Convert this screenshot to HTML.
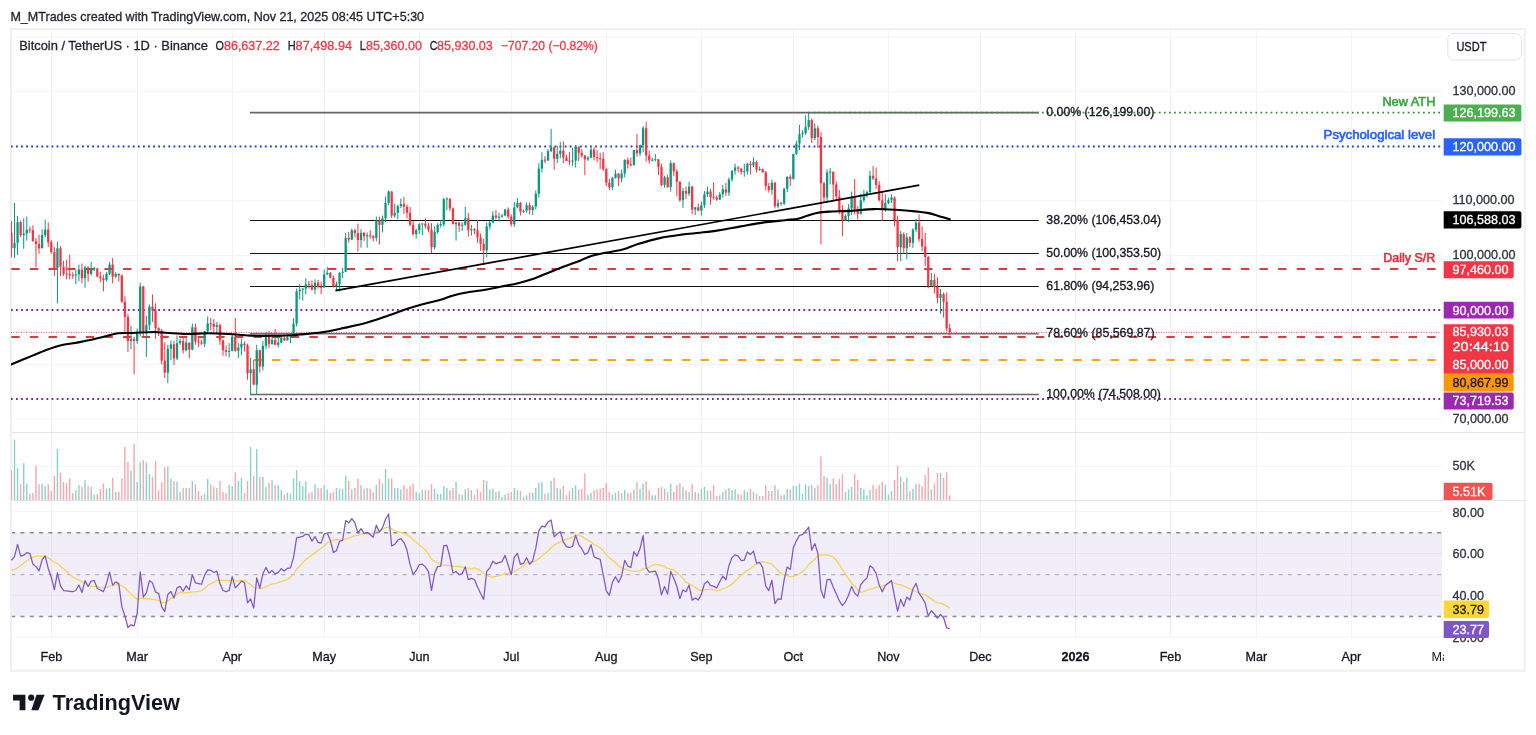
<!DOCTYPE html>
<html><head><meta charset="utf-8"><title>BTCUSDT chart</title>
<style>html,body{margin:0;padding:0;background:#fff;}body{width:1536px;height:735px;overflow:hidden;}svg{display:block;will-change:transform;}</style>
</head><body>
<svg width="1536" height="735" viewBox="0 0 1536 735">
<rect width="1536" height="735" fill="#ffffff"/>
<g stroke="#f2f3f6" stroke-width="1">
<line x1="51.5" y1="29" x2="51.5" y2="637"/>
<line x1="137.5" y1="29" x2="137.5" y2="637"/>
<line x1="232.5" y1="29" x2="232.5" y2="637"/>
<line x1="324.5" y1="29" x2="324.5" y2="637"/>
<line x1="419.5" y1="29" x2="419.5" y2="637"/>
<line x1="511.5" y1="29" x2="511.5" y2="637"/>
<line x1="606.5" y1="29" x2="606.5" y2="637"/>
<line x1="701.5" y1="29" x2="701.5" y2="637"/>
<line x1="793.5" y1="29" x2="793.5" y2="637"/>
<line x1="888.5" y1="29" x2="888.5" y2="637"/>
<line x1="980.5" y1="29" x2="980.5" y2="637"/>
<line x1="1075.5" y1="29" x2="1075.5" y2="637"/>
<line x1="1170.5" y1="29" x2="1170.5" y2="637"/>
<line x1="1256.5" y1="29" x2="1256.5" y2="637"/>
<line x1="1351.5" y1="29" x2="1351.5" y2="637"/>
<line x1="11" y1="419.0" x2="1442.0" y2="419.0"/>
<line x1="11" y1="364.4" x2="1442.0" y2="364.4"/>
<line x1="11" y1="309.9" x2="1442.0" y2="309.9"/>
<line x1="11" y1="255.3" x2="1442.0" y2="255.3"/>
<line x1="11" y1="200.8" x2="1442.0" y2="200.8"/>
<line x1="11" y1="146.2" x2="1442.0" y2="146.2"/>
<line x1="11" y1="91.7" x2="1442.0" y2="91.7"/>
<line x1="11" y1="37.2" x2="1442.0" y2="37.2"/>
<line x1="11" y1="466.3" x2="1442.0" y2="466.3"/>
<line x1="11" y1="511.6" x2="1442.0" y2="511.6"/>
<line x1="11" y1="553.5" x2="1442.0" y2="553.5"/>
<line x1="11" y1="595.3" x2="1442.0" y2="595.3"/>
<line x1="11" y1="637.2" x2="1442.0" y2="637.2"/>
</g>
<rect x="11" y="532.5" width="1431.0" height="83.7" fill="#7e57c2" fill-opacity="0.1"/>
<line x1="11.1" y1="532.8" x2="1442.0" y2="532.8" stroke="#8a8d96" stroke-width="1.5" stroke-dasharray="4.1 5.22"/>
<line x1="11.1" y1="574.7" x2="1442.0" y2="574.7" stroke="#a3a6ae" stroke-width="1" stroke-dasharray="4.1 5.22"/>
<line x1="11.1" y1="616.5" x2="1442.0" y2="616.5" stroke="#8a8d96" stroke-width="1.5" stroke-dasharray="4.1 5.22"/>
<g stroke="#e0e3eb" stroke-width="1">
<line x1="10.5" y1="432.5" x2="1524.5" y2="432.5"/>
<line x1="10.5" y1="500.5" x2="1524.5" y2="500.5"/>
</g>
<rect x="10.9" y="29" width="1513.8" height="641.8" fill="none" stroke="#eeeff1" stroke-width="2"/>
<defs><clipPath id="cm"><rect x="11" y="29" width="1431" height="403"/></clipPath><clipPath id="cv"><rect x="11" y="433" width="1431" height="67"/></clipPath><clipPath id="cr"><rect x="11" y="501" width="1431" height="136"/></clipPath></defs>
<g clip-path="url(#cv)">
<rect x="10.74" y="470.1" width="1.4" height="29.9" fill="#f7a7ad"/>
<rect x="13.80" y="439.6" width="1.4" height="60.4" fill="#8dd0c6"/>
<rect x="16.87" y="468.2" width="1.4" height="31.8" fill="#8dd0c6"/>
<rect x="19.94" y="484.2" width="1.4" height="15.8" fill="#f7a7ad"/>
<rect x="23.00" y="463.2" width="1.4" height="36.8" fill="#8dd0c6"/>
<rect x="26.07" y="483.7" width="1.4" height="16.3" fill="#8dd0c6"/>
<rect x="29.14" y="493.9" width="1.4" height="6.1" fill="#f7a7ad"/>
<rect x="32.20" y="493.0" width="1.4" height="7.0" fill="#f7a7ad"/>
<rect x="35.27" y="465.8" width="1.4" height="34.2" fill="#f7a7ad"/>
<rect x="38.33" y="484.2" width="1.4" height="15.8" fill="#f7a7ad"/>
<rect x="41.40" y="483.7" width="1.4" height="16.3" fill="#8dd0c6"/>
<rect x="44.47" y="486.1" width="1.4" height="13.9" fill="#8dd0c6"/>
<rect x="47.53" y="484.2" width="1.4" height="15.8" fill="#f7a7ad"/>
<rect x="50.60" y="491.0" width="1.4" height="9.0" fill="#f7a7ad"/>
<rect x="53.67" y="476.0" width="1.4" height="24.0" fill="#f7a7ad"/>
<rect x="56.73" y="449.0" width="1.4" height="51.0" fill="#8dd0c6"/>
<rect x="59.80" y="472.8" width="1.4" height="27.2" fill="#f7a7ad"/>
<rect x="62.87" y="482.0" width="1.4" height="18.0" fill="#f7a7ad"/>
<rect x="65.93" y="483.4" width="1.4" height="16.6" fill="#f7a7ad"/>
<rect x="69.00" y="478.4" width="1.4" height="21.6" fill="#f7a7ad"/>
<rect x="72.06" y="493.0" width="1.4" height="7.0" fill="#f7a7ad"/>
<rect x="75.13" y="490.1" width="1.4" height="9.9" fill="#8dd0c6"/>
<rect x="78.20" y="485.1" width="1.4" height="14.9" fill="#8dd0c6"/>
<rect x="81.26" y="487.0" width="1.4" height="13.0" fill="#f7a7ad"/>
<rect x="84.33" y="480.1" width="1.4" height="19.9" fill="#8dd0c6"/>
<rect x="87.40" y="486.1" width="1.4" height="13.9" fill="#f7a7ad"/>
<rect x="90.46" y="487.0" width="1.4" height="13.0" fill="#8dd0c6"/>
<rect x="93.53" y="494.7" width="1.4" height="5.3" fill="#8dd0c6"/>
<rect x="96.59" y="493.9" width="1.4" height="6.1" fill="#f7a7ad"/>
<rect x="99.66" y="488.7" width="1.4" height="11.3" fill="#f7a7ad"/>
<rect x="102.73" y="483.4" width="1.4" height="16.6" fill="#f7a7ad"/>
<rect x="105.79" y="488.7" width="1.4" height="11.3" fill="#8dd0c6"/>
<rect x="108.86" y="488.0" width="1.4" height="12.0" fill="#8dd0c6"/>
<rect x="111.93" y="477.7" width="1.4" height="22.3" fill="#f7a7ad"/>
<rect x="114.99" y="492.0" width="1.4" height="8.0" fill="#8dd0c6"/>
<rect x="118.06" y="492.0" width="1.4" height="8.0" fill="#f7a7ad"/>
<rect x="121.12" y="478.4" width="1.4" height="21.6" fill="#f7a7ad"/>
<rect x="124.19" y="447.0" width="1.4" height="53.0" fill="#f7a7ad"/>
<rect x="127.26" y="461.8" width="1.4" height="38.2" fill="#f7a7ad"/>
<rect x="130.32" y="470.9" width="1.4" height="29.1" fill="#8dd0c6"/>
<rect x="133.39" y="443.9" width="1.4" height="56.1" fill="#f7a7ad"/>
<rect x="136.46" y="482.0" width="1.4" height="18.0" fill="#8dd0c6"/>
<rect x="139.52" y="462.3" width="1.4" height="37.7" fill="#8dd0c6"/>
<rect x="142.59" y="460.1" width="1.4" height="39.9" fill="#f7a7ad"/>
<rect x="145.66" y="462.3" width="1.4" height="37.7" fill="#8dd0c6"/>
<rect x="148.72" y="474.1" width="1.4" height="25.9" fill="#8dd0c6"/>
<rect x="151.79" y="477.0" width="1.4" height="23.0" fill="#f7a7ad"/>
<rect x="154.85" y="460.9" width="1.4" height="39.1" fill="#f7a7ad"/>
<rect x="157.92" y="490.3" width="1.4" height="9.7" fill="#f7a7ad"/>
<rect x="160.99" y="482.0" width="1.4" height="18.0" fill="#f7a7ad"/>
<rect x="164.05" y="467.4" width="1.4" height="32.6" fill="#f7a7ad"/>
<rect x="167.12" y="466.8" width="1.4" height="33.2" fill="#8dd0c6"/>
<rect x="170.19" y="478.5" width="1.4" height="21.5" fill="#8dd0c6"/>
<rect x="173.25" y="481.0" width="1.4" height="19.0" fill="#f7a7ad"/>
<rect x="176.32" y="482.0" width="1.4" height="18.0" fill="#8dd0c6"/>
<rect x="179.38" y="492.0" width="1.4" height="8.0" fill="#8dd0c6"/>
<rect x="182.45" y="488.0" width="1.4" height="12.0" fill="#f7a7ad"/>
<rect x="185.52" y="488.0" width="1.4" height="12.0" fill="#8dd0c6"/>
<rect x="188.58" y="488.0" width="1.4" height="12.0" fill="#f7a7ad"/>
<rect x="191.65" y="481.0" width="1.4" height="19.0" fill="#8dd0c6"/>
<rect x="194.72" y="484.2" width="1.4" height="15.8" fill="#f7a7ad"/>
<rect x="197.78" y="491.0" width="1.4" height="9.0" fill="#f7a7ad"/>
<rect x="200.85" y="495.3" width="1.4" height="4.7" fill="#f7a7ad"/>
<rect x="203.92" y="493.9" width="1.4" height="6.1" fill="#8dd0c6"/>
<rect x="206.98" y="479.1" width="1.4" height="20.9" fill="#8dd0c6"/>
<rect x="210.05" y="484.2" width="1.4" height="15.8" fill="#f7a7ad"/>
<rect x="213.11" y="487.0" width="1.4" height="13.0" fill="#f7a7ad"/>
<rect x="216.18" y="488.0" width="1.4" height="12.0" fill="#8dd0c6"/>
<rect x="219.25" y="481.0" width="1.4" height="19.0" fill="#f7a7ad"/>
<rect x="222.31" y="492.0" width="1.4" height="8.0" fill="#f7a7ad"/>
<rect x="225.38" y="493.0" width="1.4" height="7.0" fill="#f7a7ad"/>
<rect x="228.45" y="485.1" width="1.4" height="14.9" fill="#8dd0c6"/>
<rect x="231.51" y="486.1" width="1.4" height="13.9" fill="#8dd0c6"/>
<rect x="234.58" y="472.5" width="1.4" height="27.5" fill="#f7a7ad"/>
<rect x="237.64" y="481.0" width="1.4" height="19.0" fill="#8dd0c6"/>
<rect x="240.71" y="477.7" width="1.4" height="22.3" fill="#8dd0c6"/>
<rect x="243.78" y="493.0" width="1.4" height="7.0" fill="#f7a7ad"/>
<rect x="246.84" y="481.0" width="1.4" height="19.0" fill="#f7a7ad"/>
<rect x="249.91" y="447.0" width="1.4" height="53.0" fill="#8dd0c6"/>
<rect x="252.98" y="476.0" width="1.4" height="24.0" fill="#f7a7ad"/>
<rect x="256.04" y="449.0" width="1.4" height="51.0" fill="#8dd0c6"/>
<rect x="259.11" y="477.0" width="1.4" height="23.0" fill="#f7a7ad"/>
<rect x="262.17" y="477.0" width="1.4" height="23.0" fill="#8dd0c6"/>
<rect x="265.24" y="487.0" width="1.4" height="13.0" fill="#8dd0c6"/>
<rect x="268.31" y="482.8" width="1.4" height="17.2" fill="#f7a7ad"/>
<rect x="271.37" y="480.1" width="1.4" height="19.9" fill="#8dd0c6"/>
<rect x="274.44" y="485.1" width="1.4" height="14.9" fill="#f7a7ad"/>
<rect x="277.51" y="485.1" width="1.4" height="14.9" fill="#8dd0c6"/>
<rect x="280.57" y="490.1" width="1.4" height="9.9" fill="#8dd0c6"/>
<rect x="283.64" y="495.0" width="1.4" height="5.0" fill="#f7a7ad"/>
<rect x="286.71" y="493.0" width="1.4" height="7.0" fill="#8dd0c6"/>
<rect x="289.77" y="493.9" width="1.4" height="6.1" fill="#8dd0c6"/>
<rect x="292.84" y="478.5" width="1.4" height="21.5" fill="#8dd0c6"/>
<rect x="295.90" y="470.1" width="1.4" height="29.9" fill="#8dd0c6"/>
<rect x="298.97" y="481.0" width="1.4" height="19.0" fill="#8dd0c6"/>
<rect x="302.04" y="486.1" width="1.4" height="13.9" fill="#8dd0c6"/>
<rect x="305.10" y="481.0" width="1.4" height="19.0" fill="#8dd0c6"/>
<rect x="308.17" y="493.0" width="1.4" height="7.0" fill="#f7a7ad"/>
<rect x="311.24" y="492.0" width="1.4" height="8.0" fill="#f7a7ad"/>
<rect x="314.30" y="484.2" width="1.4" height="15.8" fill="#8dd0c6"/>
<rect x="317.37" y="488.0" width="1.4" height="12.0" fill="#f7a7ad"/>
<rect x="320.43" y="488.0" width="1.4" height="12.0" fill="#f7a7ad"/>
<rect x="323.50" y="485.1" width="1.4" height="14.9" fill="#8dd0c6"/>
<rect x="326.57" y="489.4" width="1.4" height="10.6" fill="#8dd0c6"/>
<rect x="329.63" y="493.0" width="1.4" height="7.0" fill="#f7a7ad"/>
<rect x="332.70" y="492.0" width="1.4" height="8.0" fill="#f7a7ad"/>
<rect x="335.77" y="488.0" width="1.4" height="12.0" fill="#8dd0c6"/>
<rect x="338.83" y="488.7" width="1.4" height="11.3" fill="#8dd0c6"/>
<rect x="341.90" y="488.7" width="1.4" height="11.3" fill="#8dd0c6"/>
<rect x="344.96" y="476.0" width="1.4" height="24.0" fill="#8dd0c6"/>
<rect x="348.03" y="481.0" width="1.4" height="19.0" fill="#f7a7ad"/>
<rect x="351.10" y="489.4" width="1.4" height="10.6" fill="#8dd0c6"/>
<rect x="354.16" y="488.0" width="1.4" height="12.0" fill="#f7a7ad"/>
<rect x="357.23" y="478.5" width="1.4" height="21.5" fill="#f7a7ad"/>
<rect x="360.30" y="485.1" width="1.4" height="14.9" fill="#8dd0c6"/>
<rect x="363.36" y="488.7" width="1.4" height="11.3" fill="#f7a7ad"/>
<rect x="366.43" y="488.0" width="1.4" height="12.0" fill="#8dd0c6"/>
<rect x="369.50" y="488.7" width="1.4" height="11.3" fill="#f7a7ad"/>
<rect x="372.56" y="492.0" width="1.4" height="8.0" fill="#f7a7ad"/>
<rect x="375.63" y="485.1" width="1.4" height="14.9" fill="#8dd0c6"/>
<rect x="378.69" y="479.1" width="1.4" height="20.9" fill="#f7a7ad"/>
<rect x="381.76" y="483.7" width="1.4" height="16.3" fill="#8dd0c6"/>
<rect x="384.83" y="469.1" width="1.4" height="30.9" fill="#8dd0c6"/>
<rect x="387.89" y="478.5" width="1.4" height="21.5" fill="#8dd0c6"/>
<rect x="390.96" y="478.5" width="1.4" height="21.5" fill="#f7a7ad"/>
<rect x="394.03" y="488.0" width="1.4" height="12.0" fill="#8dd0c6"/>
<rect x="397.09" y="488.0" width="1.4" height="12.0" fill="#8dd0c6"/>
<rect x="400.16" y="489.4" width="1.4" height="10.6" fill="#8dd0c6"/>
<rect x="403.22" y="485.1" width="1.4" height="14.9" fill="#f7a7ad"/>
<rect x="406.29" y="488.7" width="1.4" height="11.3" fill="#f7a7ad"/>
<rect x="409.36" y="486.1" width="1.4" height="13.9" fill="#f7a7ad"/>
<rect x="412.42" y="483.7" width="1.4" height="16.3" fill="#f7a7ad"/>
<rect x="415.49" y="492.0" width="1.4" height="8.0" fill="#8dd0c6"/>
<rect x="418.56" y="493.0" width="1.4" height="7.0" fill="#8dd0c6"/>
<rect x="421.62" y="490.1" width="1.4" height="9.9" fill="#8dd0c6"/>
<rect x="424.69" y="490.1" width="1.4" height="9.9" fill="#f7a7ad"/>
<rect x="427.75" y="490.1" width="1.4" height="9.9" fill="#f7a7ad"/>
<rect x="430.82" y="484.2" width="1.4" height="15.8" fill="#f7a7ad"/>
<rect x="433.89" y="488.7" width="1.4" height="11.3" fill="#8dd0c6"/>
<rect x="436.95" y="493.9" width="1.4" height="6.1" fill="#8dd0c6"/>
<rect x="440.02" y="493.9" width="1.4" height="6.1" fill="#8dd0c6"/>
<rect x="443.09" y="486.1" width="1.4" height="13.9" fill="#8dd0c6"/>
<rect x="446.15" y="488.0" width="1.4" height="12.0" fill="#8dd0c6"/>
<rect x="449.22" y="490.1" width="1.4" height="9.9" fill="#f7a7ad"/>
<rect x="452.29" y="488.0" width="1.4" height="12.0" fill="#f7a7ad"/>
<rect x="455.35" y="482.0" width="1.4" height="18.0" fill="#8dd0c6"/>
<rect x="458.42" y="493.9" width="1.4" height="6.1" fill="#f7a7ad"/>
<rect x="461.48" y="494.7" width="1.4" height="5.3" fill="#8dd0c6"/>
<rect x="464.55" y="489.4" width="1.4" height="10.6" fill="#8dd0c6"/>
<rect x="467.62" y="488.0" width="1.4" height="12.0" fill="#f7a7ad"/>
<rect x="470.68" y="490.1" width="1.4" height="9.9" fill="#8dd0c6"/>
<rect x="473.75" y="494.7" width="1.4" height="5.3" fill="#f7a7ad"/>
<rect x="476.82" y="488.7" width="1.4" height="11.3" fill="#f7a7ad"/>
<rect x="479.88" y="492.0" width="1.4" height="8.0" fill="#f7a7ad"/>
<rect x="482.95" y="480.1" width="1.4" height="19.9" fill="#f7a7ad"/>
<rect x="486.01" y="481.0" width="1.4" height="19.0" fill="#8dd0c6"/>
<rect x="489.08" y="489.4" width="1.4" height="10.6" fill="#8dd0c6"/>
<rect x="492.15" y="488.7" width="1.4" height="11.3" fill="#8dd0c6"/>
<rect x="495.21" y="492.0" width="1.4" height="8.0" fill="#f7a7ad"/>
<rect x="498.28" y="491.0" width="1.4" height="9.0" fill="#8dd0c6"/>
<rect x="501.35" y="497.0" width="1.4" height="3.0" fill="#8dd0c6"/>
<rect x="504.41" y="494.7" width="1.4" height="5.3" fill="#8dd0c6"/>
<rect x="507.48" y="493.0" width="1.4" height="7.0" fill="#f7a7ad"/>
<rect x="510.55" y="492.0" width="1.4" height="8.0" fill="#f7a7ad"/>
<rect x="513.61" y="488.0" width="1.4" height="12.0" fill="#8dd0c6"/>
<rect x="516.68" y="490.1" width="1.4" height="9.9" fill="#8dd0c6"/>
<rect x="519.74" y="491.0" width="1.4" height="9.0" fill="#f7a7ad"/>
<rect x="522.81" y="497.0" width="1.4" height="3.0" fill="#8dd0c6"/>
<rect x="525.88" y="495.3" width="1.4" height="4.7" fill="#8dd0c6"/>
<rect x="528.94" y="493.0" width="1.4" height="7.0" fill="#f7a7ad"/>
<rect x="532.01" y="493.0" width="1.4" height="7.0" fill="#8dd0c6"/>
<rect x="535.08" y="488.0" width="1.4" height="12.0" fill="#8dd0c6"/>
<rect x="538.14" y="483.0" width="1.4" height="17.0" fill="#8dd0c6"/>
<rect x="541.21" y="482.0" width="1.4" height="18.0" fill="#8dd0c6"/>
<rect x="544.27" y="493.9" width="1.4" height="6.1" fill="#f7a7ad"/>
<rect x="547.34" y="493.0" width="1.4" height="7.0" fill="#8dd0c6"/>
<rect x="550.41" y="481.0" width="1.4" height="19.0" fill="#8dd0c6"/>
<rect x="553.47" y="477.7" width="1.4" height="22.3" fill="#f7a7ad"/>
<rect x="556.54" y="488.0" width="1.4" height="12.0" fill="#8dd0c6"/>
<rect x="559.61" y="488.7" width="1.4" height="11.3" fill="#8dd0c6"/>
<rect x="562.67" y="486.1" width="1.4" height="13.9" fill="#f7a7ad"/>
<rect x="565.74" y="495.3" width="1.4" height="4.7" fill="#f7a7ad"/>
<rect x="568.80" y="491.0" width="1.4" height="9.0" fill="#f7a7ad"/>
<rect x="571.87" y="488.0" width="1.4" height="12.0" fill="#8dd0c6"/>
<rect x="574.94" y="485.1" width="1.4" height="14.9" fill="#8dd0c6"/>
<rect x="578.00" y="489.4" width="1.4" height="10.6" fill="#f7a7ad"/>
<rect x="581.07" y="488.7" width="1.4" height="11.3" fill="#f7a7ad"/>
<rect x="584.14" y="473.4" width="1.4" height="26.6" fill="#f7a7ad"/>
<rect x="587.20" y="494.7" width="1.4" height="5.3" fill="#8dd0c6"/>
<rect x="590.27" y="493.0" width="1.4" height="7.0" fill="#8dd0c6"/>
<rect x="593.34" y="490.1" width="1.4" height="9.9" fill="#f7a7ad"/>
<rect x="596.40" y="489.4" width="1.4" height="10.6" fill="#f7a7ad"/>
<rect x="599.47" y="488.7" width="1.4" height="11.3" fill="#f7a7ad"/>
<rect x="602.53" y="488.0" width="1.4" height="12.0" fill="#f7a7ad"/>
<rect x="605.60" y="483.0" width="1.4" height="17.0" fill="#f7a7ad"/>
<rect x="608.67" y="492.0" width="1.4" height="8.0" fill="#f7a7ad"/>
<rect x="611.73" y="494.7" width="1.4" height="5.3" fill="#8dd0c6"/>
<rect x="614.80" y="493.0" width="1.4" height="7.0" fill="#8dd0c6"/>
<rect x="617.87" y="491.0" width="1.4" height="9.0" fill="#f7a7ad"/>
<rect x="620.93" y="493.0" width="1.4" height="7.0" fill="#8dd0c6"/>
<rect x="624.00" y="490.1" width="1.4" height="9.9" fill="#8dd0c6"/>
<rect x="627.06" y="493.0" width="1.4" height="7.0" fill="#f7a7ad"/>
<rect x="630.13" y="493.0" width="1.4" height="7.0" fill="#f7a7ad"/>
<rect x="633.20" y="489.4" width="1.4" height="10.6" fill="#8dd0c6"/>
<rect x="636.26" y="482.0" width="1.4" height="18.0" fill="#f7a7ad"/>
<rect x="639.33" y="488.7" width="1.4" height="11.3" fill="#8dd0c6"/>
<rect x="642.40" y="483.7" width="1.4" height="16.3" fill="#8dd0c6"/>
<rect x="645.46" y="481.0" width="1.4" height="19.0" fill="#f7a7ad"/>
<rect x="648.53" y="490.1" width="1.4" height="9.9" fill="#f7a7ad"/>
<rect x="651.59" y="495.3" width="1.4" height="4.7" fill="#8dd0c6"/>
<rect x="654.66" y="495.3" width="1.4" height="4.7" fill="#8dd0c6"/>
<rect x="657.73" y="488.0" width="1.4" height="12.0" fill="#f7a7ad"/>
<rect x="660.79" y="487.0" width="1.4" height="13.0" fill="#f7a7ad"/>
<rect x="663.86" y="488.7" width="1.4" height="11.3" fill="#8dd0c6"/>
<rect x="666.93" y="492.0" width="1.4" height="8.0" fill="#f7a7ad"/>
<rect x="669.99" y="483.7" width="1.4" height="16.3" fill="#8dd0c6"/>
<rect x="673.06" y="492.0" width="1.4" height="8.0" fill="#f7a7ad"/>
<rect x="676.13" y="485.1" width="1.4" height="14.9" fill="#f7a7ad"/>
<rect x="679.19" y="483.0" width="1.4" height="17.0" fill="#f7a7ad"/>
<rect x="682.26" y="487.0" width="1.4" height="13.0" fill="#8dd0c6"/>
<rect x="685.32" y="490.1" width="1.4" height="9.9" fill="#f7a7ad"/>
<rect x="688.39" y="492.0" width="1.4" height="8.0" fill="#8dd0c6"/>
<rect x="691.46" y="484.2" width="1.4" height="15.8" fill="#f7a7ad"/>
<rect x="694.52" y="492.0" width="1.4" height="8.0" fill="#8dd0c6"/>
<rect x="697.59" y="493.0" width="1.4" height="7.0" fill="#f7a7ad"/>
<rect x="700.66" y="488.7" width="1.4" height="11.3" fill="#8dd0c6"/>
<rect x="703.72" y="487.0" width="1.4" height="13.0" fill="#8dd0c6"/>
<rect x="706.79" y="491.0" width="1.4" height="9.0" fill="#8dd0c6"/>
<rect x="709.85" y="491.0" width="1.4" height="9.0" fill="#f7a7ad"/>
<rect x="712.92" y="485.1" width="1.4" height="14.9" fill="#f7a7ad"/>
<rect x="715.99" y="496.1" width="1.4" height="3.9" fill="#f7a7ad"/>
<rect x="719.05" y="495.3" width="1.4" height="4.7" fill="#8dd0c6"/>
<rect x="722.12" y="492.0" width="1.4" height="8.0" fill="#8dd0c6"/>
<rect x="725.19" y="489.4" width="1.4" height="10.6" fill="#f7a7ad"/>
<rect x="728.25" y="488.0" width="1.4" height="12.0" fill="#8dd0c6"/>
<rect x="731.32" y="490.1" width="1.4" height="9.9" fill="#8dd0c6"/>
<rect x="734.38" y="489.4" width="1.4" height="10.6" fill="#8dd0c6"/>
<rect x="737.45" y="493.9" width="1.4" height="6.1" fill="#f7a7ad"/>
<rect x="740.52" y="494.7" width="1.4" height="5.3" fill="#f7a7ad"/>
<rect x="743.58" y="490.1" width="1.4" height="9.9" fill="#8dd0c6"/>
<rect x="746.65" y="492.0" width="1.4" height="8.0" fill="#8dd0c6"/>
<rect x="749.72" y="488.7" width="1.4" height="11.3" fill="#f7a7ad"/>
<rect x="752.78" y="492.0" width="1.4" height="8.0" fill="#8dd0c6"/>
<rect x="755.85" y="493.9" width="1.4" height="6.1" fill="#f7a7ad"/>
<rect x="758.92" y="496.1" width="1.4" height="3.9" fill="#8dd0c6"/>
<rect x="761.98" y="496.1" width="1.4" height="3.9" fill="#f7a7ad"/>
<rect x="765.05" y="485.1" width="1.4" height="14.9" fill="#f7a7ad"/>
<rect x="768.11" y="491.0" width="1.4" height="9.0" fill="#f7a7ad"/>
<rect x="771.18" y="491.0" width="1.4" height="9.0" fill="#8dd0c6"/>
<rect x="774.25" y="485.1" width="1.4" height="14.9" fill="#f7a7ad"/>
<rect x="777.31" y="489.4" width="1.4" height="10.6" fill="#8dd0c6"/>
<rect x="780.38" y="495.3" width="1.4" height="4.7" fill="#f7a7ad"/>
<rect x="783.45" y="494.7" width="1.4" height="5.3" fill="#8dd0c6"/>
<rect x="786.51" y="488.7" width="1.4" height="11.3" fill="#8dd0c6"/>
<rect x="789.58" y="489.4" width="1.4" height="10.6" fill="#f7a7ad"/>
<rect x="792.64" y="486.1" width="1.4" height="13.9" fill="#8dd0c6"/>
<rect x="795.71" y="486.1" width="1.4" height="13.9" fill="#8dd0c6"/>
<rect x="798.78" y="483.7" width="1.4" height="16.3" fill="#8dd0c6"/>
<rect x="801.84" y="493.9" width="1.4" height="6.1" fill="#8dd0c6"/>
<rect x="804.91" y="484.2" width="1.4" height="15.8" fill="#8dd0c6"/>
<rect x="807.98" y="486.1" width="1.4" height="13.9" fill="#8dd0c6"/>
<rect x="811.04" y="485.1" width="1.4" height="14.9" fill="#f7a7ad"/>
<rect x="814.11" y="488.0" width="1.4" height="12.0" fill="#8dd0c6"/>
<rect x="817.17" y="485.1" width="1.4" height="14.9" fill="#f7a7ad"/>
<rect x="820.24" y="456.3" width="1.4" height="43.7" fill="#f7a7ad"/>
<rect x="823.31" y="476.0" width="1.4" height="24.0" fill="#f7a7ad"/>
<rect x="826.37" y="477.7" width="1.4" height="22.3" fill="#8dd0c6"/>
<rect x="829.44" y="484.2" width="1.4" height="15.8" fill="#8dd0c6"/>
<rect x="832.51" y="478.4" width="1.4" height="21.6" fill="#f7a7ad"/>
<rect x="835.57" y="484.2" width="1.4" height="15.8" fill="#f7a7ad"/>
<rect x="838.64" y="479.1" width="1.4" height="20.9" fill="#f7a7ad"/>
<rect x="841.71" y="474.1" width="1.4" height="25.9" fill="#f7a7ad"/>
<rect x="844.77" y="492.0" width="1.4" height="8.0" fill="#8dd0c6"/>
<rect x="847.84" y="489.4" width="1.4" height="10.6" fill="#8dd0c6"/>
<rect x="850.90" y="487.0" width="1.4" height="13.0" fill="#8dd0c6"/>
<rect x="853.97" y="474.1" width="1.4" height="25.9" fill="#f7a7ad"/>
<rect x="857.04" y="480.1" width="1.4" height="19.9" fill="#f7a7ad"/>
<rect x="860.10" y="488.0" width="1.4" height="12.0" fill="#8dd0c6"/>
<rect x="863.17" y="489.4" width="1.4" height="10.6" fill="#8dd0c6"/>
<rect x="866.24" y="495.3" width="1.4" height="4.7" fill="#8dd0c6"/>
<rect x="869.30" y="490.1" width="1.4" height="9.9" fill="#8dd0c6"/>
<rect x="872.37" y="485.1" width="1.4" height="14.9" fill="#f7a7ad"/>
<rect x="875.43" y="488.7" width="1.4" height="11.3" fill="#f7a7ad"/>
<rect x="878.50" y="485.1" width="1.4" height="14.9" fill="#f7a7ad"/>
<rect x="881.57" y="482.0" width="1.4" height="18.0" fill="#f7a7ad"/>
<rect x="884.63" y="485.1" width="1.4" height="14.9" fill="#8dd0c6"/>
<rect x="887.70" y="494.7" width="1.4" height="5.3" fill="#8dd0c6"/>
<rect x="890.77" y="491.0" width="1.4" height="9.0" fill="#8dd0c6"/>
<rect x="893.83" y="480.1" width="1.4" height="19.9" fill="#f7a7ad"/>
<rect x="896.90" y="465.8" width="1.4" height="34.2" fill="#f7a7ad"/>
<rect x="899.97" y="477.0" width="1.4" height="23.0" fill="#8dd0c6"/>
<rect x="903.03" y="482.0" width="1.4" height="18.0" fill="#f7a7ad"/>
<rect x="906.10" y="477.7" width="1.4" height="22.3" fill="#8dd0c6"/>
<rect x="909.16" y="491.0" width="1.4" height="9.0" fill="#f7a7ad"/>
<rect x="912.23" y="488.7" width="1.4" height="11.3" fill="#8dd0c6"/>
<rect x="915.30" y="484.2" width="1.4" height="15.8" fill="#8dd0c6"/>
<rect x="918.36" y="483.7" width="1.4" height="16.3" fill="#f7a7ad"/>
<rect x="921.43" y="486.1" width="1.4" height="13.9" fill="#f7a7ad"/>
<rect x="924.50" y="475.0" width="1.4" height="25.0" fill="#f7a7ad"/>
<rect x="927.56" y="467.4" width="1.4" height="32.6" fill="#f7a7ad"/>
<rect x="930.63" y="489.4" width="1.4" height="10.6" fill="#8dd0c6"/>
<rect x="933.69" y="483.4" width="1.4" height="16.6" fill="#f7a7ad"/>
<rect x="936.76" y="473.1" width="1.4" height="26.9" fill="#f7a7ad"/>
<rect x="939.83" y="472.8" width="1.4" height="27.2" fill="#8dd0c6"/>
<rect x="942.89" y="477.7" width="1.4" height="22.3" fill="#f7a7ad"/>
<rect x="945.96" y="472.5" width="1.4" height="27.5" fill="#f7a7ad"/>
<rect x="949.03" y="495.3" width="1.4" height="4.7" fill="#f7a7ad"/>
</g>
<g clip-path="url(#cm)">
<line x1="250" y1="112.6" x2="1038.8" y2="112.6" stroke="#666666" stroke-width="1.6"/>
<line x1="250" y1="220.5" x2="1038.8" y2="220.5" stroke="#111111" stroke-width="1"/>
<line x1="250" y1="253.5" x2="1038.8" y2="253.5" stroke="#111111" stroke-width="1"/>
<line x1="250" y1="286.5" x2="1038.8" y2="286.5" stroke="#111111" stroke-width="1"/>
<line x1="250" y1="333.7" x2="1038.8" y2="333.7" stroke="#707070" stroke-width="1.4"/>
<line x1="250" y1="394.5" x2="1038.8" y2="394.5" stroke="#666666" stroke-width="1.6"/>
<line x1="808.3" y1="112.60" x2="1440.6" y2="112.60" stroke="#3d8b40" stroke-width="1.8" stroke-dasharray="1.8 3.28" stroke-dashoffset="0"/>
<line x1="10.9" y1="146.50" x2="1440.6" y2="146.50" stroke="#2040c8" stroke-width="1.8" stroke-dasharray="1.8 3.28" stroke-dashoffset="0"/>
<line x1="11.3" y1="269.10" x2="1440.6" y2="269.10" stroke="#e23845" stroke-width="2" stroke-dasharray="8.4 10.23" stroke-dashoffset="0"/>
<line x1="10.9" y1="310.00" x2="1440.6" y2="310.00" stroke="#7b2a96" stroke-width="1.8" stroke-dasharray="1.8 3.28" stroke-dashoffset="0"/>
<line x1="11.3" y1="337.00" x2="1440.6" y2="337.00" stroke="#e23845" stroke-width="2" stroke-dasharray="8.4 10.23" stroke-dashoffset="0"/>
<line x1="253.49" y1="360.00" x2="1440.6" y2="360.00" stroke="#f2a71b" stroke-width="2" stroke-dasharray="8.4 10.23" stroke-dashoffset="0"/>
<line x1="10.9" y1="399.00" x2="1440.6" y2="399.00" stroke="#7b2a96" stroke-width="1.8" stroke-dasharray="1.8 3.28" stroke-dashoffset="0"/>
<line x1="11" y1="332.40" x2="1440.6" y2="332.40" stroke="#e84a55" stroke-width="1" stroke-dasharray="1 1.5" stroke-dashoffset="0"/>
</g>
<g clip-path="url(#cm)">
<rect x="10.94" y="220.98" width="1" height="36.55" fill="#f23645"/>
<rect x="10.29" y="232.98" width="2.3" height="15.27" fill="#f23645"/>
<rect x="14.00" y="202.98" width="1" height="55.10" fill="#089981"/>
<rect x="13.35" y="242.80" width="2.3" height="5.45" fill="#089981"/>
<rect x="17.07" y="216.07" width="1" height="38.73" fill="#089981"/>
<rect x="16.42" y="222.07" width="2.3" height="20.73" fill="#089981"/>
<rect x="20.14" y="220.44" width="1" height="16.91" fill="#f23645"/>
<rect x="19.49" y="222.07" width="2.3" height="13.09" fill="#f23645"/>
<rect x="23.20" y="218.26" width="1" height="30.55" fill="#089981"/>
<rect x="22.55" y="233.53" width="2.3" height="1.64" fill="#089981"/>
<rect x="26.27" y="216.62" width="1" height="24.00" fill="#089981"/>
<rect x="25.62" y="229.71" width="2.3" height="3.82" fill="#089981"/>
<rect x="29.34" y="226.44" width="1" height="6.55" fill="#f23645"/>
<rect x="28.69" y="229.48" width="2.3" height="1.00" fill="#f23645"/>
<rect x="32.40" y="225.35" width="1" height="16.37" fill="#f23645"/>
<rect x="31.75" y="230.26" width="2.3" height="10.91" fill="#f23645"/>
<rect x="35.47" y="237.89" width="1" height="29.46" fill="#f23645"/>
<rect x="34.82" y="241.17" width="2.3" height="2.73" fill="#f23645"/>
<rect x="38.53" y="234.62" width="1" height="19.09" fill="#f23645"/>
<rect x="37.88" y="243.89" width="2.3" height="4.36" fill="#f23645"/>
<rect x="41.60" y="229.17" width="1" height="19.09" fill="#089981"/>
<rect x="40.95" y="235.17" width="2.3" height="13.09" fill="#089981"/>
<rect x="44.67" y="219.89" width="1" height="17.46" fill="#089981"/>
<rect x="44.02" y="229.71" width="2.3" height="5.46" fill="#089981"/>
<rect x="47.73" y="222.62" width="1" height="24.55" fill="#f23645"/>
<rect x="47.08" y="229.71" width="2.3" height="12.55" fill="#f23645"/>
<rect x="50.80" y="240.08" width="1" height="13.64" fill="#f23645"/>
<rect x="50.15" y="242.26" width="2.3" height="9.82" fill="#f23645"/>
<rect x="53.87" y="247.17" width="1" height="28.91" fill="#f23645"/>
<rect x="53.22" y="252.08" width="2.3" height="15.82" fill="#f23645"/>
<rect x="56.93" y="241.71" width="1" height="61.64" fill="#089981"/>
<rect x="56.28" y="248.26" width="2.3" height="19.64" fill="#089981"/>
<rect x="60.00" y="246.08" width="1" height="30.00" fill="#f23645"/>
<rect x="59.35" y="248.26" width="2.3" height="18.55" fill="#f23645"/>
<rect x="63.07" y="260.81" width="1" height="15.27" fill="#f23645"/>
<rect x="62.42" y="266.81" width="2.3" height="7.09" fill="#f23645"/>
<rect x="66.13" y="259.71" width="1" height="19.64" fill="#f23645"/>
<rect x="65.48" y="273.67" width="2.3" height="1.00" fill="#f23645"/>
<rect x="69.20" y="254.80" width="1" height="24.55" fill="#f23645"/>
<rect x="68.55" y="274.22" width="2.3" height="1.00" fill="#f23645"/>
<rect x="72.26" y="272.26" width="1" height="6.55" fill="#f23645"/>
<rect x="71.61" y="274.76" width="2.3" height="1.00" fill="#f23645"/>
<rect x="75.33" y="270.08" width="1" height="14.18" fill="#089981"/>
<rect x="74.68" y="274.44" width="2.3" height="1.09" fill="#089981"/>
<rect x="78.40" y="264.62" width="1" height="16.36" fill="#089981"/>
<rect x="77.75" y="269.53" width="2.3" height="4.91" fill="#089981"/>
<rect x="81.46" y="263.53" width="1" height="19.64" fill="#f23645"/>
<rect x="80.81" y="269.53" width="2.3" height="8.73" fill="#f23645"/>
<rect x="84.53" y="265.71" width="1" height="21.82" fill="#089981"/>
<rect x="83.88" y="267.35" width="2.3" height="10.91" fill="#089981"/>
<rect x="87.60" y="266.26" width="1" height="15.27" fill="#f23645"/>
<rect x="86.95" y="267.35" width="2.3" height="6.55" fill="#f23645"/>
<rect x="90.66" y="261.90" width="1" height="13.64" fill="#089981"/>
<rect x="90.01" y="268.99" width="2.3" height="4.91" fill="#089981"/>
<rect x="93.73" y="266.81" width="1" height="4.36" fill="#089981"/>
<rect x="93.08" y="268.21" width="2.3" height="1.00" fill="#089981"/>
<rect x="96.79" y="267.90" width="1" height="9.27" fill="#f23645"/>
<rect x="96.14" y="268.44" width="2.3" height="8.18" fill="#f23645"/>
<rect x="99.86" y="271.71" width="1" height="10.36" fill="#f23645"/>
<rect x="99.21" y="276.62" width="2.3" height="1.64" fill="#f23645"/>
<rect x="102.93" y="274.99" width="1" height="16.37" fill="#f23645"/>
<rect x="102.28" y="278.26" width="2.3" height="1.64" fill="#f23645"/>
<rect x="105.99" y="272.26" width="1" height="9.27" fill="#089981"/>
<rect x="105.34" y="273.90" width="2.3" height="6.00" fill="#089981"/>
<rect x="109.06" y="261.90" width="1" height="13.09" fill="#089981"/>
<rect x="108.41" y="264.62" width="2.3" height="9.27" fill="#089981"/>
<rect x="112.13" y="258.08" width="1" height="25.09" fill="#f23645"/>
<rect x="111.48" y="264.62" width="2.3" height="12.00" fill="#f23645"/>
<rect x="115.19" y="272.26" width="1" height="6.00" fill="#089981"/>
<rect x="114.54" y="273.90" width="2.3" height="2.73" fill="#089981"/>
<rect x="118.26" y="273.35" width="1" height="8.18" fill="#f23645"/>
<rect x="117.61" y="273.90" width="2.3" height="1.64" fill="#f23645"/>
<rect x="121.32" y="274.44" width="1" height="28.37" fill="#f23645"/>
<rect x="120.67" y="275.53" width="2.3" height="26.18" fill="#f23645"/>
<rect x="124.39" y="296.26" width="1" height="35.46" fill="#f23645"/>
<rect x="123.74" y="301.72" width="2.3" height="15.27" fill="#f23645"/>
<rect x="127.46" y="313.72" width="1" height="38.19" fill="#f23645"/>
<rect x="126.81" y="316.99" width="2.3" height="24.00" fill="#f23645"/>
<rect x="130.52" y="325.72" width="1" height="23.46" fill="#089981"/>
<rect x="129.87" y="338.81" width="2.3" height="2.18" fill="#089981"/>
<rect x="133.59" y="336.63" width="1" height="37.64" fill="#f23645"/>
<rect x="132.94" y="338.81" width="2.3" height="2.18" fill="#f23645"/>
<rect x="136.66" y="328.45" width="1" height="15.27" fill="#089981"/>
<rect x="136.01" y="331.72" width="2.3" height="9.27" fill="#089981"/>
<rect x="139.72" y="282.62" width="1" height="54.00" fill="#089981"/>
<rect x="139.07" y="286.44" width="2.3" height="45.28" fill="#089981"/>
<rect x="142.79" y="285.90" width="1" height="51.28" fill="#f23645"/>
<rect x="142.14" y="286.44" width="2.3" height="44.73" fill="#f23645"/>
<rect x="145.86" y="315.90" width="1" height="40.91" fill="#089981"/>
<rect x="145.21" y="325.17" width="2.3" height="6.00" fill="#089981"/>
<rect x="148.92" y="304.44" width="1" height="25.64" fill="#089981"/>
<rect x="148.27" y="306.63" width="2.3" height="18.55" fill="#089981"/>
<rect x="151.99" y="294.63" width="1" height="27.27" fill="#f23645"/>
<rect x="151.34" y="306.63" width="2.3" height="3.82" fill="#f23645"/>
<rect x="155.05" y="303.35" width="1" height="35.46" fill="#f23645"/>
<rect x="154.40" y="310.45" width="2.3" height="17.46" fill="#f23645"/>
<rect x="158.12" y="327.36" width="1" height="8.73" fill="#f23645"/>
<rect x="157.47" y="327.90" width="2.3" height="2.73" fill="#f23645"/>
<rect x="161.19" y="328.99" width="1" height="35.46" fill="#f23645"/>
<rect x="160.54" y="330.63" width="2.3" height="30.00" fill="#f23645"/>
<rect x="164.25" y="342.08" width="1" height="36.00" fill="#f23645"/>
<rect x="163.60" y="360.63" width="2.3" height="12.00" fill="#f23645"/>
<rect x="167.32" y="344.81" width="1" height="38.19" fill="#089981"/>
<rect x="166.67" y="348.63" width="2.3" height="24.00" fill="#089981"/>
<rect x="170.39" y="340.45" width="1" height="19.64" fill="#089981"/>
<rect x="169.74" y="344.27" width="2.3" height="4.36" fill="#089981"/>
<rect x="173.45" y="340.99" width="1" height="24.00" fill="#f23645"/>
<rect x="172.80" y="344.27" width="2.3" height="14.18" fill="#f23645"/>
<rect x="176.52" y="335.54" width="1" height="24.55" fill="#089981"/>
<rect x="175.87" y="343.18" width="2.3" height="15.27" fill="#089981"/>
<rect x="179.58" y="338.81" width="1" height="6.00" fill="#089981"/>
<rect x="178.93" y="340.99" width="2.3" height="2.18" fill="#089981"/>
<rect x="182.65" y="337.18" width="1" height="16.36" fill="#f23645"/>
<rect x="182.00" y="340.99" width="2.3" height="9.27" fill="#f23645"/>
<rect x="185.72" y="338.27" width="1" height="13.09" fill="#089981"/>
<rect x="185.07" y="342.63" width="2.3" height="7.64" fill="#089981"/>
<rect x="188.78" y="342.63" width="1" height="15.82" fill="#f23645"/>
<rect x="188.13" y="342.63" width="2.3" height="7.09" fill="#f23645"/>
<rect x="191.85" y="323.54" width="1" height="26.73" fill="#089981"/>
<rect x="191.20" y="327.36" width="2.3" height="22.37" fill="#089981"/>
<rect x="194.92" y="323.54" width="1" height="21.27" fill="#f23645"/>
<rect x="194.27" y="327.36" width="2.3" height="14.18" fill="#f23645"/>
<rect x="197.98" y="338.27" width="1" height="8.73" fill="#f23645"/>
<rect x="197.33" y="341.54" width="2.3" height="1.09" fill="#f23645"/>
<rect x="201.05" y="339.90" width="1" height="4.91" fill="#f23645"/>
<rect x="200.40" y="342.63" width="2.3" height="1.09" fill="#f23645"/>
<rect x="204.12" y="331.17" width="1" height="15.82" fill="#089981"/>
<rect x="203.47" y="331.17" width="2.3" height="12.55" fill="#089981"/>
<rect x="207.18" y="316.45" width="1" height="18.00" fill="#089981"/>
<rect x="206.53" y="323.54" width="2.3" height="7.64" fill="#089981"/>
<rect x="210.25" y="318.08" width="1" height="12.00" fill="#f23645"/>
<rect x="209.60" y="323.31" width="2.3" height="1.00" fill="#f23645"/>
<rect x="213.31" y="319.17" width="1" height="13.09" fill="#f23645"/>
<rect x="212.66" y="324.08" width="2.3" height="2.73" fill="#f23645"/>
<rect x="216.38" y="321.90" width="1" height="10.91" fill="#089981"/>
<rect x="215.73" y="325.17" width="2.3" height="1.64" fill="#089981"/>
<rect x="219.45" y="323.54" width="1" height="21.27" fill="#f23645"/>
<rect x="218.80" y="325.17" width="2.3" height="15.27" fill="#f23645"/>
<rect x="222.51" y="339.36" width="1" height="16.37" fill="#f23645"/>
<rect x="221.86" y="340.45" width="2.3" height="9.82" fill="#f23645"/>
<rect x="225.58" y="345.36" width="1" height="10.91" fill="#f23645"/>
<rect x="224.93" y="350.27" width="2.3" height="1.64" fill="#f23645"/>
<rect x="228.65" y="343.18" width="1" height="14.18" fill="#089981"/>
<rect x="228.00" y="350.81" width="2.3" height="1.09" fill="#089981"/>
<rect x="231.71" y="334.45" width="1" height="16.91" fill="#089981"/>
<rect x="231.06" y="336.63" width="2.3" height="14.18" fill="#089981"/>
<rect x="234.78" y="318.08" width="1" height="33.82" fill="#f23645"/>
<rect x="234.13" y="336.63" width="2.3" height="14.18" fill="#f23645"/>
<rect x="237.84" y="343.18" width="1" height="14.73" fill="#089981"/>
<rect x="237.19" y="347.54" width="2.3" height="3.27" fill="#089981"/>
<rect x="240.91" y="338.81" width="1" height="16.37" fill="#089981"/>
<rect x="240.26" y="343.72" width="2.3" height="3.82" fill="#089981"/>
<rect x="243.98" y="341.54" width="1" height="9.82" fill="#f23645"/>
<rect x="243.33" y="343.72" width="2.3" height="1.64" fill="#f23645"/>
<rect x="247.04" y="343.72" width="1" height="36.00" fill="#f23645"/>
<rect x="246.39" y="345.36" width="2.3" height="27.82" fill="#f23645"/>
<rect x="250.11" y="357.90" width="1" height="36.55" fill="#089981"/>
<rect x="249.46" y="369.36" width="2.3" height="3.82" fill="#089981"/>
<rect x="253.18" y="360.09" width="1" height="25.09" fill="#f23645"/>
<rect x="252.53" y="369.36" width="2.3" height="15.27" fill="#f23645"/>
<rect x="256.24" y="344.81" width="1" height="49.10" fill="#089981"/>
<rect x="255.59" y="350.27" width="2.3" height="34.37" fill="#089981"/>
<rect x="259.31" y="349.72" width="1" height="22.91" fill="#f23645"/>
<rect x="258.66" y="350.27" width="2.3" height="16.37" fill="#f23645"/>
<rect x="262.37" y="340.99" width="1" height="29.46" fill="#089981"/>
<rect x="261.72" y="345.90" width="2.3" height="20.73" fill="#089981"/>
<rect x="265.44" y="332.27" width="1" height="16.91" fill="#089981"/>
<rect x="264.79" y="335.54" width="2.3" height="10.36" fill="#089981"/>
<rect x="268.51" y="331.17" width="1" height="16.91" fill="#f23645"/>
<rect x="267.86" y="335.54" width="2.3" height="8.73" fill="#f23645"/>
<rect x="271.57" y="332.81" width="1" height="11.46" fill="#089981"/>
<rect x="270.92" y="339.90" width="2.3" height="4.36" fill="#089981"/>
<rect x="274.64" y="328.99" width="1" height="15.82" fill="#f23645"/>
<rect x="273.99" y="339.90" width="2.3" height="4.91" fill="#f23645"/>
<rect x="277.71" y="334.45" width="1" height="13.09" fill="#089981"/>
<rect x="277.06" y="342.63" width="2.3" height="2.18" fill="#089981"/>
<rect x="280.77" y="334.45" width="1" height="8.73" fill="#089981"/>
<rect x="280.12" y="337.72" width="2.3" height="4.91" fill="#089981"/>
<rect x="283.84" y="336.63" width="1" height="4.36" fill="#f23645"/>
<rect x="283.19" y="337.72" width="2.3" height="2.73" fill="#f23645"/>
<rect x="286.91" y="333.90" width="1" height="6.55" fill="#089981"/>
<rect x="286.26" y="337.18" width="2.3" height="3.27" fill="#089981"/>
<rect x="289.97" y="335.54" width="1" height="7.64" fill="#089981"/>
<rect x="289.32" y="336.40" width="2.3" height="1.00" fill="#089981"/>
<rect x="293.04" y="318.08" width="1" height="18.55" fill="#089981"/>
<rect x="292.39" y="323.54" width="2.3" height="13.09" fill="#089981"/>
<rect x="296.10" y="288.63" width="1" height="37.64" fill="#089981"/>
<rect x="295.45" y="291.35" width="2.3" height="32.18" fill="#089981"/>
<rect x="299.17" y="284.26" width="1" height="15.27" fill="#089981"/>
<rect x="298.52" y="289.72" width="2.3" height="1.64" fill="#089981"/>
<rect x="302.24" y="288.08" width="1" height="12.55" fill="#089981"/>
<rect x="301.59" y="288.63" width="2.3" height="1.09" fill="#089981"/>
<rect x="305.30" y="278.26" width="1" height="15.82" fill="#089981"/>
<rect x="304.65" y="284.26" width="2.3" height="4.36" fill="#089981"/>
<rect x="308.37" y="280.99" width="1" height="7.64" fill="#f23645"/>
<rect x="307.72" y="284.03" width="2.3" height="1.00" fill="#f23645"/>
<rect x="311.44" y="280.44" width="1" height="9.82" fill="#f23645"/>
<rect x="310.79" y="284.81" width="2.3" height="4.91" fill="#f23645"/>
<rect x="314.50" y="279.35" width="1" height="14.73" fill="#089981"/>
<rect x="313.85" y="282.62" width="2.3" height="7.09" fill="#089981"/>
<rect x="317.57" y="279.90" width="1" height="8.73" fill="#f23645"/>
<rect x="316.92" y="282.62" width="2.3" height="4.36" fill="#f23645"/>
<rect x="320.63" y="281.53" width="1" height="12.55" fill="#f23645"/>
<rect x="319.98" y="286.76" width="2.3" height="1.00" fill="#f23645"/>
<rect x="323.70" y="269.53" width="1" height="18.00" fill="#089981"/>
<rect x="323.05" y="274.44" width="2.3" height="13.09" fill="#089981"/>
<rect x="326.77" y="266.81" width="1" height="8.18" fill="#089981"/>
<rect x="326.12" y="272.81" width="2.3" height="1.64" fill="#089981"/>
<rect x="329.83" y="272.26" width="1" height="6.00" fill="#f23645"/>
<rect x="329.18" y="272.81" width="2.3" height="4.91" fill="#f23645"/>
<rect x="332.90" y="275.53" width="1" height="12.00" fill="#f23645"/>
<rect x="332.25" y="277.72" width="2.3" height="8.73" fill="#f23645"/>
<rect x="335.97" y="281.53" width="1" height="9.27" fill="#089981"/>
<rect x="335.32" y="284.26" width="2.3" height="2.18" fill="#089981"/>
<rect x="339.03" y="272.26" width="1" height="19.09" fill="#089981"/>
<rect x="338.38" y="272.81" width="2.3" height="11.46" fill="#089981"/>
<rect x="342.10" y="267.90" width="1" height="10.36" fill="#089981"/>
<rect x="341.45" y="271.71" width="2.3" height="1.09" fill="#089981"/>
<rect x="345.16" y="232.98" width="1" height="39.28" fill="#089981"/>
<rect x="344.51" y="237.89" width="2.3" height="33.82" fill="#089981"/>
<rect x="348.23" y="231.89" width="1" height="10.91" fill="#f23645"/>
<rect x="347.58" y="237.89" width="2.3" height="1.64" fill="#f23645"/>
<rect x="351.30" y="228.62" width="1" height="11.46" fill="#089981"/>
<rect x="350.65" y="230.26" width="2.3" height="9.27" fill="#089981"/>
<rect x="354.36" y="228.62" width="1" height="8.73" fill="#f23645"/>
<rect x="353.71" y="230.26" width="2.3" height="2.73" fill="#f23645"/>
<rect x="357.43" y="223.71" width="1" height="27.82" fill="#f23645"/>
<rect x="356.78" y="232.98" width="2.3" height="7.09" fill="#f23645"/>
<rect x="360.50" y="229.17" width="1" height="18.55" fill="#089981"/>
<rect x="359.85" y="232.98" width="2.3" height="7.09" fill="#089981"/>
<rect x="363.56" y="231.89" width="1" height="9.27" fill="#f23645"/>
<rect x="362.91" y="232.98" width="2.3" height="3.27" fill="#f23645"/>
<rect x="366.63" y="232.44" width="1" height="15.27" fill="#089981"/>
<rect x="365.98" y="235.17" width="2.3" height="1.09" fill="#089981"/>
<rect x="369.70" y="230.26" width="1" height="8.18" fill="#f23645"/>
<rect x="369.05" y="235.17" width="2.3" height="1.09" fill="#f23645"/>
<rect x="372.76" y="235.17" width="1" height="6.00" fill="#f23645"/>
<rect x="372.11" y="236.26" width="2.3" height="1.64" fill="#f23645"/>
<rect x="375.83" y="216.62" width="1" height="24.55" fill="#089981"/>
<rect x="375.18" y="220.44" width="2.3" height="17.46" fill="#089981"/>
<rect x="378.89" y="216.62" width="1" height="27.82" fill="#f23645"/>
<rect x="378.24" y="220.44" width="2.3" height="4.36" fill="#f23645"/>
<rect x="381.96" y="215.53" width="1" height="16.91" fill="#089981"/>
<rect x="381.31" y="218.26" width="2.3" height="6.55" fill="#089981"/>
<rect x="385.03" y="196.44" width="1" height="25.64" fill="#089981"/>
<rect x="384.38" y="202.98" width="2.3" height="15.27" fill="#089981"/>
<rect x="388.09" y="190.44" width="1" height="14.73" fill="#089981"/>
<rect x="387.44" y="191.53" width="2.3" height="11.46" fill="#089981"/>
<rect x="391.16" y="190.98" width="1" height="27.28" fill="#f23645"/>
<rect x="390.51" y="191.53" width="2.3" height="24.00" fill="#f23645"/>
<rect x="394.23" y="203.53" width="1" height="14.18" fill="#089981"/>
<rect x="393.58" y="212.80" width="2.3" height="2.73" fill="#089981"/>
<rect x="397.29" y="204.62" width="1" height="14.73" fill="#089981"/>
<rect x="396.64" y="206.25" width="2.3" height="6.55" fill="#089981"/>
<rect x="400.36" y="198.62" width="1" height="9.27" fill="#089981"/>
<rect x="399.71" y="204.07" width="2.3" height="2.18" fill="#089981"/>
<rect x="403.42" y="196.98" width="1" height="16.91" fill="#f23645"/>
<rect x="402.77" y="204.07" width="2.3" height="2.73" fill="#f23645"/>
<rect x="406.49" y="204.62" width="1" height="13.64" fill="#f23645"/>
<rect x="405.84" y="206.80" width="2.3" height="6.00" fill="#f23645"/>
<rect x="409.56" y="206.80" width="1" height="19.64" fill="#f23645"/>
<rect x="408.91" y="212.80" width="2.3" height="12.00" fill="#f23645"/>
<rect x="412.62" y="220.98" width="1" height="14.73" fill="#f23645"/>
<rect x="411.97" y="224.80" width="2.3" height="9.27" fill="#f23645"/>
<rect x="415.69" y="228.62" width="1" height="9.82" fill="#089981"/>
<rect x="415.04" y="230.26" width="2.3" height="3.82" fill="#089981"/>
<rect x="418.76" y="223.17" width="1" height="10.91" fill="#089981"/>
<rect x="418.11" y="224.26" width="2.3" height="6.00" fill="#089981"/>
<rect x="421.82" y="223.17" width="1" height="12.00" fill="#089981"/>
<rect x="421.17" y="223.48" width="2.3" height="1.00" fill="#089981"/>
<rect x="424.89" y="218.26" width="1" height="10.36" fill="#f23645"/>
<rect x="424.24" y="223.71" width="2.3" height="2.18" fill="#f23645"/>
<rect x="427.95" y="222.62" width="1" height="9.82" fill="#f23645"/>
<rect x="427.30" y="225.89" width="2.3" height="3.82" fill="#f23645"/>
<rect x="431.02" y="223.17" width="1" height="30.00" fill="#f23645"/>
<rect x="430.37" y="229.71" width="2.3" height="17.46" fill="#f23645"/>
<rect x="434.09" y="226.44" width="1" height="22.91" fill="#089981"/>
<rect x="433.44" y="231.89" width="2.3" height="15.27" fill="#089981"/>
<rect x="437.15" y="223.17" width="1" height="10.91" fill="#089981"/>
<rect x="436.50" y="224.80" width="2.3" height="7.09" fill="#089981"/>
<rect x="440.22" y="219.89" width="1" height="7.64" fill="#089981"/>
<rect x="439.57" y="224.03" width="2.3" height="1.00" fill="#089981"/>
<rect x="443.29" y="197.53" width="1" height="28.91" fill="#089981"/>
<rect x="442.64" y="199.16" width="2.3" height="25.09" fill="#089981"/>
<rect x="446.35" y="197.53" width="1" height="12.55" fill="#089981"/>
<rect x="445.70" y="198.39" width="2.3" height="1.00" fill="#089981"/>
<rect x="449.42" y="198.62" width="1" height="12.55" fill="#f23645"/>
<rect x="448.77" y="198.62" width="2.3" height="9.82" fill="#f23645"/>
<rect x="452.49" y="207.35" width="1" height="16.91" fill="#f23645"/>
<rect x="451.84" y="208.44" width="2.3" height="15.82" fill="#f23645"/>
<rect x="455.55" y="221.53" width="1" height="19.09" fill="#089981"/>
<rect x="454.90" y="222.62" width="2.3" height="1.64" fill="#089981"/>
<rect x="458.62" y="221.53" width="1" height="10.36" fill="#f23645"/>
<rect x="457.97" y="222.62" width="2.3" height="3.27" fill="#f23645"/>
<rect x="461.68" y="222.07" width="1" height="8.73" fill="#089981"/>
<rect x="461.03" y="224.80" width="2.3" height="1.09" fill="#089981"/>
<rect x="464.75" y="206.80" width="1" height="19.09" fill="#089981"/>
<rect x="464.10" y="218.26" width="2.3" height="6.55" fill="#089981"/>
<rect x="467.82" y="212.80" width="1" height="24.00" fill="#f23645"/>
<rect x="467.17" y="218.26" width="2.3" height="12.00" fill="#f23645"/>
<rect x="470.88" y="224.80" width="1" height="10.91" fill="#089981"/>
<rect x="470.23" y="229.17" width="2.3" height="1.09" fill="#089981"/>
<rect x="473.95" y="228.07" width="1" height="6.00" fill="#f23645"/>
<rect x="473.30" y="229.17" width="2.3" height="1.09" fill="#f23645"/>
<rect x="477.02" y="219.89" width="1" height="22.91" fill="#f23645"/>
<rect x="476.37" y="230.26" width="2.3" height="7.09" fill="#f23645"/>
<rect x="480.08" y="233.53" width="1" height="17.46" fill="#f23645"/>
<rect x="479.43" y="237.35" width="2.3" height="6.55" fill="#f23645"/>
<rect x="483.15" y="238.98" width="1" height="26.18" fill="#f23645"/>
<rect x="482.50" y="243.89" width="2.3" height="6.55" fill="#f23645"/>
<rect x="486.21" y="222.62" width="1" height="34.91" fill="#089981"/>
<rect x="485.56" y="226.44" width="2.3" height="24.00" fill="#089981"/>
<rect x="489.28" y="220.98" width="1" height="8.73" fill="#089981"/>
<rect x="488.63" y="222.62" width="2.3" height="3.82" fill="#089981"/>
<rect x="492.35" y="211.16" width="1" height="12.00" fill="#089981"/>
<rect x="491.70" y="215.53" width="2.3" height="7.09" fill="#089981"/>
<rect x="495.41" y="210.07" width="1" height="9.27" fill="#f23645"/>
<rect x="494.76" y="215.53" width="2.3" height="2.18" fill="#f23645"/>
<rect x="498.48" y="212.80" width="1" height="8.73" fill="#089981"/>
<rect x="497.83" y="216.62" width="2.3" height="1.09" fill="#089981"/>
<rect x="501.55" y="213.89" width="1" height="3.82" fill="#089981"/>
<rect x="500.90" y="215.53" width="2.3" height="1.09" fill="#089981"/>
<rect x="504.61" y="208.98" width="1" height="7.09" fill="#089981"/>
<rect x="503.96" y="209.53" width="2.3" height="6.00" fill="#089981"/>
<rect x="507.68" y="207.35" width="1" height="11.46" fill="#f23645"/>
<rect x="507.03" y="209.53" width="2.3" height="7.09" fill="#f23645"/>
<rect x="510.75" y="214.44" width="1" height="12.00" fill="#f23645"/>
<rect x="510.10" y="216.62" width="2.3" height="7.64" fill="#f23645"/>
<rect x="513.81" y="201.89" width="1" height="25.09" fill="#089981"/>
<rect x="513.16" y="207.35" width="2.3" height="16.91" fill="#089981"/>
<rect x="516.88" y="198.07" width="1" height="10.36" fill="#089981"/>
<rect x="516.23" y="202.98" width="2.3" height="4.36" fill="#089981"/>
<rect x="519.94" y="201.89" width="1" height="13.64" fill="#f23645"/>
<rect x="519.29" y="202.98" width="2.3" height="8.73" fill="#f23645"/>
<rect x="523.01" y="209.53" width="1" height="3.27" fill="#089981"/>
<rect x="522.36" y="210.62" width="2.3" height="1.09" fill="#089981"/>
<rect x="526.08" y="202.44" width="1" height="10.36" fill="#089981"/>
<rect x="525.43" y="205.16" width="2.3" height="5.45" fill="#089981"/>
<rect x="529.14" y="202.44" width="1" height="12.00" fill="#f23645"/>
<rect x="528.49" y="205.16" width="2.3" height="4.91" fill="#f23645"/>
<rect x="532.21" y="205.16" width="1" height="9.82" fill="#089981"/>
<rect x="531.56" y="206.80" width="2.3" height="3.27" fill="#089981"/>
<rect x="535.28" y="190.44" width="1" height="19.09" fill="#089981"/>
<rect x="534.63" y="193.71" width="2.3" height="13.09" fill="#089981"/>
<rect x="538.34" y="163.16" width="1" height="34.37" fill="#089981"/>
<rect x="537.69" y="168.62" width="2.3" height="25.09" fill="#089981"/>
<rect x="541.41" y="152.25" width="1" height="20.18" fill="#089981"/>
<rect x="540.76" y="159.89" width="2.3" height="8.73" fill="#089981"/>
<rect x="544.47" y="156.07" width="1" height="7.09" fill="#f23645"/>
<rect x="543.82" y="159.66" width="2.3" height="1.00" fill="#f23645"/>
<rect x="547.54" y="148.98" width="1" height="12.00" fill="#089981"/>
<rect x="546.89" y="151.16" width="2.3" height="9.27" fill="#089981"/>
<rect x="550.61" y="128.79" width="1" height="23.46" fill="#089981"/>
<rect x="549.96" y="147.34" width="2.3" height="3.82" fill="#089981"/>
<rect x="553.67" y="146.80" width="1" height="22.91" fill="#f23645"/>
<rect x="553.02" y="147.34" width="2.3" height="11.46" fill="#f23645"/>
<rect x="556.74" y="145.70" width="1" height="17.46" fill="#089981"/>
<rect x="556.09" y="153.89" width="2.3" height="4.91" fill="#089981"/>
<rect x="559.81" y="141.89" width="1" height="16.36" fill="#089981"/>
<rect x="559.16" y="150.61" width="2.3" height="3.27" fill="#089981"/>
<rect x="562.87" y="141.34" width="1" height="21.82" fill="#f23645"/>
<rect x="562.22" y="150.61" width="2.3" height="7.09" fill="#f23645"/>
<rect x="565.94" y="154.98" width="1" height="6.00" fill="#f23645"/>
<rect x="565.29" y="157.71" width="2.3" height="3.27" fill="#f23645"/>
<rect x="569.00" y="152.25" width="1" height="13.09" fill="#f23645"/>
<rect x="568.35" y="160.75" width="2.3" height="1.00" fill="#f23645"/>
<rect x="572.07" y="147.89" width="1" height="18.00" fill="#089981"/>
<rect x="571.42" y="160.43" width="2.3" height="1.09" fill="#089981"/>
<rect x="575.14" y="145.16" width="1" height="22.37" fill="#089981"/>
<rect x="574.49" y="146.80" width="2.3" height="13.64" fill="#089981"/>
<rect x="578.20" y="146.25" width="1" height="14.73" fill="#f23645"/>
<rect x="577.55" y="146.80" width="2.3" height="6.00" fill="#f23645"/>
<rect x="581.27" y="148.98" width="1" height="8.73" fill="#f23645"/>
<rect x="580.62" y="152.80" width="2.3" height="2.73" fill="#f23645"/>
<rect x="584.34" y="154.98" width="1" height="20.18" fill="#f23645"/>
<rect x="583.69" y="155.52" width="2.3" height="3.82" fill="#f23645"/>
<rect x="587.40" y="156.07" width="1" height="4.91" fill="#089981"/>
<rect x="586.75" y="157.71" width="2.3" height="1.64" fill="#089981"/>
<rect x="590.47" y="147.34" width="1" height="10.91" fill="#089981"/>
<rect x="589.82" y="149.52" width="2.3" height="8.18" fill="#089981"/>
<rect x="593.54" y="147.34" width="1" height="13.09" fill="#f23645"/>
<rect x="592.89" y="149.52" width="2.3" height="7.64" fill="#f23645"/>
<rect x="596.60" y="150.07" width="1" height="12.00" fill="#f23645"/>
<rect x="595.95" y="157.16" width="2.3" height="1.09" fill="#f23645"/>
<rect x="599.67" y="152.80" width="1" height="16.37" fill="#f23645"/>
<rect x="599.02" y="158.02" width="2.3" height="1.00" fill="#f23645"/>
<rect x="602.73" y="152.25" width="1" height="18.55" fill="#f23645"/>
<rect x="602.08" y="158.80" width="2.3" height="10.36" fill="#f23645"/>
<rect x="605.80" y="167.52" width="1" height="18.55" fill="#f23645"/>
<rect x="605.15" y="169.16" width="2.3" height="13.64" fill="#f23645"/>
<rect x="608.87" y="178.98" width="1" height="10.91" fill="#f23645"/>
<rect x="608.22" y="182.80" width="2.3" height="4.36" fill="#f23645"/>
<rect x="611.93" y="176.80" width="1" height="13.09" fill="#089981"/>
<rect x="611.28" y="177.89" width="2.3" height="9.27" fill="#089981"/>
<rect x="615.00" y="169.71" width="1" height="8.73" fill="#089981"/>
<rect x="614.35" y="173.52" width="2.3" height="4.36" fill="#089981"/>
<rect x="618.07" y="172.98" width="1" height="13.09" fill="#f23645"/>
<rect x="617.42" y="173.52" width="2.3" height="4.91" fill="#f23645"/>
<rect x="621.13" y="169.71" width="1" height="12.55" fill="#089981"/>
<rect x="620.48" y="173.52" width="2.3" height="4.91" fill="#089981"/>
<rect x="624.20" y="159.34" width="1" height="18.00" fill="#089981"/>
<rect x="623.55" y="159.89" width="2.3" height="13.64" fill="#089981"/>
<rect x="627.26" y="157.71" width="1" height="10.91" fill="#f23645"/>
<rect x="626.61" y="159.89" width="2.3" height="4.36" fill="#f23645"/>
<rect x="630.33" y="157.71" width="1" height="8.73" fill="#f23645"/>
<rect x="629.68" y="164.25" width="2.3" height="1.09" fill="#f23645"/>
<rect x="633.40" y="150.07" width="1" height="15.27" fill="#089981"/>
<rect x="632.75" y="150.07" width="2.3" height="15.27" fill="#089981"/>
<rect x="636.46" y="133.70" width="1" height="22.91" fill="#f23645"/>
<rect x="635.81" y="150.07" width="2.3" height="3.27" fill="#f23645"/>
<rect x="639.53" y="144.61" width="1" height="11.46" fill="#089981"/>
<rect x="638.88" y="145.16" width="2.3" height="8.18" fill="#089981"/>
<rect x="642.60" y="126.07" width="1" height="26.18" fill="#089981"/>
<rect x="641.95" y="128.25" width="2.3" height="16.91" fill="#089981"/>
<rect x="645.66" y="121.70" width="1" height="39.82" fill="#f23645"/>
<rect x="645.01" y="128.25" width="2.3" height="27.28" fill="#f23645"/>
<rect x="648.73" y="150.61" width="1" height="13.09" fill="#f23645"/>
<rect x="648.08" y="155.52" width="2.3" height="4.91" fill="#f23645"/>
<rect x="651.79" y="157.71" width="1" height="3.82" fill="#089981"/>
<rect x="651.14" y="159.66" width="2.3" height="1.00" fill="#089981"/>
<rect x="654.86" y="153.89" width="1" height="7.64" fill="#089981"/>
<rect x="654.21" y="159.11" width="2.3" height="1.00" fill="#089981"/>
<rect x="657.93" y="159.34" width="1" height="15.82" fill="#f23645"/>
<rect x="657.28" y="159.34" width="2.3" height="7.64" fill="#f23645"/>
<rect x="660.99" y="163.71" width="1" height="22.37" fill="#f23645"/>
<rect x="660.34" y="166.98" width="2.3" height="18.00" fill="#f23645"/>
<rect x="664.06" y="175.71" width="1" height="12.00" fill="#089981"/>
<rect x="663.41" y="177.34" width="2.3" height="7.64" fill="#089981"/>
<rect x="667.13" y="174.62" width="1" height="13.09" fill="#f23645"/>
<rect x="666.48" y="177.34" width="2.3" height="9.82" fill="#f23645"/>
<rect x="670.19" y="160.43" width="1" height="31.09" fill="#089981"/>
<rect x="669.54" y="163.16" width="2.3" height="24.00" fill="#089981"/>
<rect x="673.26" y="162.62" width="1" height="13.09" fill="#f23645"/>
<rect x="672.61" y="163.16" width="2.3" height="8.18" fill="#f23645"/>
<rect x="676.33" y="169.16" width="1" height="27.28" fill="#f23645"/>
<rect x="675.68" y="171.34" width="2.3" height="10.36" fill="#f23645"/>
<rect x="679.39" y="181.16" width="1" height="20.73" fill="#f23645"/>
<rect x="678.74" y="181.71" width="2.3" height="18.55" fill="#f23645"/>
<rect x="682.46" y="187.71" width="1" height="20.18" fill="#089981"/>
<rect x="681.81" y="190.98" width="2.3" height="9.27" fill="#089981"/>
<rect x="685.52" y="186.62" width="1" height="12.55" fill="#f23645"/>
<rect x="684.87" y="190.98" width="2.3" height="2.73" fill="#f23645"/>
<rect x="688.59" y="181.71" width="1" height="14.18" fill="#089981"/>
<rect x="687.94" y="186.62" width="2.3" height="7.09" fill="#089981"/>
<rect x="691.66" y="186.07" width="1" height="28.37" fill="#f23645"/>
<rect x="691.01" y="186.62" width="2.3" height="22.91" fill="#f23645"/>
<rect x="694.72" y="206.80" width="1" height="8.18" fill="#089981"/>
<rect x="694.07" y="207.35" width="2.3" height="2.18" fill="#089981"/>
<rect x="697.79" y="203.53" width="1" height="7.64" fill="#f23645"/>
<rect x="697.14" y="207.35" width="2.3" height="3.27" fill="#f23645"/>
<rect x="700.86" y="201.35" width="1" height="14.18" fill="#089981"/>
<rect x="700.21" y="205.16" width="2.3" height="5.45" fill="#089981"/>
<rect x="703.92" y="190.98" width="1" height="16.91" fill="#089981"/>
<rect x="703.27" y="194.25" width="2.3" height="10.91" fill="#089981"/>
<rect x="706.99" y="186.62" width="1" height="10.36" fill="#089981"/>
<rect x="706.34" y="191.53" width="2.3" height="2.73" fill="#089981"/>
<rect x="710.05" y="188.80" width="1" height="15.82" fill="#f23645"/>
<rect x="709.40" y="191.53" width="2.3" height="5.46" fill="#f23645"/>
<rect x="713.12" y="182.25" width="1" height="17.46" fill="#f23645"/>
<rect x="712.47" y="196.75" width="2.3" height="1.00" fill="#f23645"/>
<rect x="716.19" y="195.34" width="1" height="5.46" fill="#f23645"/>
<rect x="715.54" y="197.53" width="2.3" height="2.18" fill="#f23645"/>
<rect x="719.25" y="192.07" width="1" height="7.64" fill="#089981"/>
<rect x="718.60" y="194.25" width="2.3" height="5.46" fill="#089981"/>
<rect x="722.32" y="184.98" width="1" height="12.55" fill="#089981"/>
<rect x="721.67" y="189.34" width="2.3" height="4.91" fill="#089981"/>
<rect x="725.39" y="182.80" width="1" height="13.09" fill="#f23645"/>
<rect x="724.74" y="189.34" width="2.3" height="3.27" fill="#f23645"/>
<rect x="728.45" y="177.34" width="1" height="18.55" fill="#089981"/>
<rect x="727.80" y="179.53" width="2.3" height="13.09" fill="#089981"/>
<rect x="731.52" y="170.25" width="1" height="11.46" fill="#089981"/>
<rect x="730.87" y="170.80" width="2.3" height="8.73" fill="#089981"/>
<rect x="734.58" y="163.71" width="1" height="10.91" fill="#089981"/>
<rect x="733.93" y="167.52" width="2.3" height="3.27" fill="#089981"/>
<rect x="737.65" y="165.89" width="1" height="6.55" fill="#f23645"/>
<rect x="737.00" y="167.52" width="2.3" height="1.09" fill="#f23645"/>
<rect x="740.72" y="168.07" width="1" height="6.55" fill="#f23645"/>
<rect x="740.07" y="168.62" width="2.3" height="3.27" fill="#f23645"/>
<rect x="743.78" y="163.71" width="1" height="13.09" fill="#089981"/>
<rect x="743.13" y="171.12" width="2.3" height="1.00" fill="#089981"/>
<rect x="746.85" y="162.62" width="1" height="12.00" fill="#089981"/>
<rect x="746.20" y="163.71" width="2.3" height="7.64" fill="#089981"/>
<rect x="749.92" y="160.98" width="1" height="13.64" fill="#f23645"/>
<rect x="749.27" y="163.71" width="2.3" height="1.64" fill="#f23645"/>
<rect x="752.98" y="157.16" width="1" height="9.82" fill="#089981"/>
<rect x="752.33" y="162.07" width="2.3" height="3.27" fill="#089981"/>
<rect x="756.05" y="160.43" width="1" height="12.00" fill="#f23645"/>
<rect x="755.40" y="162.07" width="2.3" height="7.64" fill="#f23645"/>
<rect x="759.12" y="166.43" width="1" height="4.36" fill="#089981"/>
<rect x="758.47" y="168.93" width="2.3" height="1.00" fill="#089981"/>
<rect x="762.18" y="168.62" width="1" height="3.82" fill="#f23645"/>
<rect x="761.53" y="169.16" width="2.3" height="3.27" fill="#f23645"/>
<rect x="765.25" y="170.80" width="1" height="19.64" fill="#f23645"/>
<rect x="764.60" y="172.43" width="2.3" height="13.64" fill="#f23645"/>
<rect x="768.31" y="182.80" width="1" height="9.82" fill="#f23645"/>
<rect x="767.66" y="186.07" width="2.3" height="3.82" fill="#f23645"/>
<rect x="771.38" y="179.53" width="1" height="15.27" fill="#089981"/>
<rect x="770.73" y="182.80" width="2.3" height="7.09" fill="#089981"/>
<rect x="774.45" y="181.71" width="1" height="26.73" fill="#f23645"/>
<rect x="773.80" y="182.80" width="2.3" height="23.46" fill="#f23645"/>
<rect x="777.51" y="199.16" width="1" height="9.27" fill="#089981"/>
<rect x="776.86" y="202.98" width="2.3" height="3.27" fill="#089981"/>
<rect x="780.58" y="201.89" width="1" height="3.82" fill="#f23645"/>
<rect x="779.93" y="202.75" width="2.3" height="1.00" fill="#f23645"/>
<rect x="783.65" y="187.71" width="1" height="17.46" fill="#089981"/>
<rect x="783.00" y="188.80" width="2.3" height="14.73" fill="#089981"/>
<rect x="786.71" y="176.25" width="1" height="15.82" fill="#089981"/>
<rect x="786.06" y="176.80" width="2.3" height="12.00" fill="#089981"/>
<rect x="789.78" y="174.62" width="1" height="11.46" fill="#f23645"/>
<rect x="789.13" y="176.80" width="2.3" height="2.18" fill="#f23645"/>
<rect x="792.84" y="153.89" width="1" height="25.64" fill="#089981"/>
<rect x="792.19" y="153.89" width="2.3" height="25.09" fill="#089981"/>
<rect x="795.91" y="140.79" width="1" height="14.18" fill="#089981"/>
<rect x="795.26" y="143.52" width="2.3" height="10.36" fill="#089981"/>
<rect x="798.98" y="124.98" width="1" height="25.09" fill="#089981"/>
<rect x="798.33" y="134.25" width="2.3" height="9.27" fill="#089981"/>
<rect x="802.04" y="130.43" width="1" height="7.09" fill="#089981"/>
<rect x="801.39" y="133.16" width="2.3" height="1.09" fill="#089981"/>
<rect x="805.11" y="115.16" width="1" height="19.64" fill="#089981"/>
<rect x="804.46" y="127.16" width="2.3" height="6.00" fill="#089981"/>
<rect x="808.18" y="112.43" width="1" height="17.46" fill="#089981"/>
<rect x="807.53" y="120.07" width="2.3" height="7.09" fill="#089981"/>
<rect x="811.24" y="118.43" width="1" height="24.55" fill="#f23645"/>
<rect x="810.59" y="120.07" width="2.3" height="18.00" fill="#f23645"/>
<rect x="814.31" y="123.34" width="1" height="16.91" fill="#089981"/>
<rect x="813.66" y="128.25" width="2.3" height="9.82" fill="#089981"/>
<rect x="817.38" y="125.52" width="1" height="22.37" fill="#f23645"/>
<rect x="816.73" y="128.25" width="2.3" height="8.73" fill="#f23645"/>
<rect x="820.44" y="132.07" width="1" height="112.37" fill="#f23645"/>
<rect x="819.79" y="136.98" width="2.3" height="46.37" fill="#f23645"/>
<rect x="823.51" y="181.71" width="1" height="20.73" fill="#f23645"/>
<rect x="822.86" y="183.34" width="2.3" height="14.18" fill="#f23645"/>
<rect x="826.57" y="169.16" width="1" height="33.82" fill="#089981"/>
<rect x="825.92" y="172.43" width="2.3" height="25.09" fill="#089981"/>
<rect x="829.64" y="168.07" width="1" height="16.37" fill="#089981"/>
<rect x="828.99" y="171.66" width="2.3" height="1.00" fill="#089981"/>
<rect x="832.71" y="171.34" width="1" height="29.46" fill="#f23645"/>
<rect x="832.06" y="171.89" width="2.3" height="12.55" fill="#f23645"/>
<rect x="835.77" y="181.16" width="1" height="18.55" fill="#f23645"/>
<rect x="835.12" y="184.44" width="2.3" height="12.00" fill="#f23645"/>
<rect x="838.84" y="189.89" width="1" height="24.55" fill="#f23645"/>
<rect x="838.19" y="196.44" width="2.3" height="14.18" fill="#f23645"/>
<rect x="841.91" y="205.16" width="1" height="31.09" fill="#f23645"/>
<rect x="841.26" y="210.62" width="2.3" height="9.82" fill="#f23645"/>
<rect x="844.97" y="214.44" width="1" height="6.55" fill="#089981"/>
<rect x="844.32" y="216.07" width="2.3" height="4.36" fill="#089981"/>
<rect x="848.04" y="204.07" width="1" height="18.00" fill="#089981"/>
<rect x="847.39" y="208.44" width="2.3" height="7.64" fill="#089981"/>
<rect x="851.10" y="191.53" width="1" height="23.46" fill="#089981"/>
<rect x="850.45" y="197.53" width="2.3" height="10.91" fill="#089981"/>
<rect x="854.17" y="178.98" width="1" height="35.46" fill="#f23645"/>
<rect x="853.52" y="197.53" width="2.3" height="11.46" fill="#f23645"/>
<rect x="857.24" y="206.25" width="1" height="13.09" fill="#f23645"/>
<rect x="856.59" y="208.98" width="2.3" height="4.91" fill="#f23645"/>
<rect x="860.30" y="193.71" width="1" height="20.73" fill="#089981"/>
<rect x="859.65" y="200.25" width="2.3" height="13.64" fill="#089981"/>
<rect x="863.37" y="189.89" width="1" height="12.55" fill="#089981"/>
<rect x="862.72" y="195.34" width="2.3" height="4.91" fill="#089981"/>
<rect x="866.44" y="190.44" width="1" height="7.09" fill="#089981"/>
<rect x="865.79" y="192.07" width="2.3" height="3.27" fill="#089981"/>
<rect x="869.50" y="170.80" width="1" height="22.91" fill="#089981"/>
<rect x="868.85" y="175.71" width="2.3" height="16.37" fill="#089981"/>
<rect x="872.57" y="165.89" width="1" height="14.18" fill="#f23645"/>
<rect x="871.92" y="175.71" width="2.3" height="2.73" fill="#f23645"/>
<rect x="875.63" y="167.52" width="1" height="21.27" fill="#f23645"/>
<rect x="874.98" y="178.43" width="2.3" height="6.55" fill="#f23645"/>
<rect x="878.70" y="181.16" width="1" height="20.18" fill="#f23645"/>
<rect x="878.05" y="184.98" width="2.3" height="15.27" fill="#f23645"/>
<rect x="881.77" y="192.07" width="1" height="28.91" fill="#f23645"/>
<rect x="881.12" y="200.25" width="2.3" height="9.82" fill="#f23645"/>
<rect x="884.83" y="194.25" width="1" height="17.46" fill="#089981"/>
<rect x="884.18" y="202.98" width="2.3" height="7.09" fill="#089981"/>
<rect x="887.90" y="197.53" width="1" height="6.55" fill="#089981"/>
<rect x="887.25" y="200.25" width="2.3" height="2.73" fill="#089981"/>
<rect x="890.97" y="194.25" width="1" height="8.73" fill="#089981"/>
<rect x="890.32" y="197.53" width="2.3" height="2.73" fill="#089981"/>
<rect x="894.03" y="196.44" width="1" height="30.00" fill="#f23645"/>
<rect x="893.38" y="197.53" width="2.3" height="22.37" fill="#f23645"/>
<rect x="897.10" y="215.53" width="1" height="45.82" fill="#f23645"/>
<rect x="896.45" y="219.89" width="2.3" height="27.28" fill="#f23645"/>
<rect x="900.17" y="230.80" width="1" height="30.55" fill="#089981"/>
<rect x="899.52" y="234.08" width="2.3" height="13.09" fill="#089981"/>
<rect x="903.23" y="232.44" width="1" height="21.27" fill="#f23645"/>
<rect x="902.58" y="234.08" width="2.3" height="14.18" fill="#f23645"/>
<rect x="906.30" y="232.98" width="1" height="26.18" fill="#089981"/>
<rect x="905.65" y="237.35" width="2.3" height="10.91" fill="#089981"/>
<rect x="909.36" y="236.26" width="1" height="10.91" fill="#f23645"/>
<rect x="908.71" y="237.35" width="2.3" height="5.46" fill="#f23645"/>
<rect x="912.43" y="228.07" width="1" height="19.64" fill="#089981"/>
<rect x="911.78" y="229.71" width="2.3" height="13.09" fill="#089981"/>
<rect x="915.50" y="218.80" width="1" height="13.09" fill="#089981"/>
<rect x="914.85" y="222.62" width="2.3" height="7.09" fill="#089981"/>
<rect x="918.56" y="214.44" width="1" height="27.28" fill="#f23645"/>
<rect x="917.91" y="222.62" width="2.3" height="16.36" fill="#f23645"/>
<rect x="921.63" y="226.44" width="1" height="24.55" fill="#f23645"/>
<rect x="920.98" y="238.98" width="2.3" height="7.64" fill="#f23645"/>
<rect x="924.70" y="232.98" width="1" height="33.28" fill="#f23645"/>
<rect x="924.05" y="246.62" width="2.3" height="10.36" fill="#f23645"/>
<rect x="927.76" y="255.90" width="1" height="32.18" fill="#f23645"/>
<rect x="927.11" y="256.99" width="2.3" height="28.91" fill="#f23645"/>
<rect x="930.83" y="272.81" width="1" height="13.64" fill="#089981"/>
<rect x="930.18" y="279.90" width="2.3" height="6.00" fill="#089981"/>
<rect x="933.89" y="273.90" width="1" height="19.64" fill="#f23645"/>
<rect x="933.24" y="279.90" width="2.3" height="7.09" fill="#f23645"/>
<rect x="936.96" y="277.17" width="1" height="26.18" fill="#f23645"/>
<rect x="936.31" y="286.99" width="2.3" height="10.91" fill="#f23645"/>
<rect x="940.03" y="289.17" width="1" height="24.55" fill="#089981"/>
<rect x="939.38" y="294.08" width="2.3" height="3.82" fill="#089981"/>
<rect x="943.09" y="292.44" width="1" height="25.09" fill="#f23645"/>
<rect x="942.44" y="294.08" width="2.3" height="7.64" fill="#f23645"/>
<rect x="946.16" y="292.44" width="1" height="38.73" fill="#f23645"/>
<rect x="945.51" y="301.72" width="2.3" height="26.73" fill="#f23645"/>
<rect x="949.23" y="323.54" width="1" height="11.67" fill="#f23645"/>
<rect x="948.58" y="328.25" width="2.3" height="3.86" fill="#f23645"/>
</g>
<path clip-path="url(#cm)" d="M5.00,367.00 C6.10,366.55 7.97,365.80 11.60,364.30 C15.22,362.80 21.27,360.27 26.75,358.00 C32.23,355.73 38.94,352.78 44.50,350.70 C50.06,348.62 54.03,346.97 60.10,345.50 C66.17,344.03 73.96,343.28 80.90,341.90 C87.84,340.52 95.50,338.63 101.75,337.20 C108.00,335.77 113.19,334.00 118.40,333.30 C123.61,332.60 127.10,333.22 133.00,333.00 C138.90,332.78 147.97,332.00 153.80,332.00 C159.63,332.00 162.38,332.67 168.00,333.00 C173.62,333.33 180.83,333.95 187.50,334.00 C194.17,334.05 201.08,333.30 208.00,333.30 C214.92,333.30 222.00,333.62 229.00,334.00 C236.00,334.38 243.00,335.30 250.00,335.60 C257.00,335.90 264.05,335.87 271.00,335.80 C277.95,335.73 286.87,335.42 291.70,335.20 C296.53,334.98 294.93,334.98 300.00,334.50 C305.07,334.02 314.72,333.40 322.10,332.30 C329.48,331.20 336.92,329.48 344.30,327.90 C351.68,326.32 359.03,324.87 366.40,322.80 C373.77,320.73 382.07,317.70 388.50,315.50 C394.93,313.30 399.75,311.35 405.00,309.60 C410.25,307.85 414.23,306.58 420.00,305.00 C425.77,303.42 434.52,301.55 439.60,300.10 C444.68,298.65 446.52,297.48 450.50,296.30 C454.48,295.12 457.70,294.10 463.50,293.00 C469.30,291.90 478.40,290.88 485.30,289.70 C492.20,288.52 499.45,286.98 504.90,285.90 C510.35,284.82 513.10,284.43 518.00,283.20 C522.90,281.97 529.77,280.03 534.30,278.50 C538.83,276.97 540.67,275.85 545.20,274.00 C549.73,272.15 555.70,269.62 561.50,267.40 C567.30,265.18 574.92,262.63 580.00,260.70 C585.08,258.77 587.78,257.12 592.00,255.80 C596.22,254.48 600.18,253.85 605.30,252.80 C610.42,251.75 617.25,250.95 622.70,249.50 C628.15,248.05 631.83,246.00 638.00,244.10 C644.17,242.20 652.45,239.68 659.70,238.10 C666.95,236.52 674.78,235.50 681.50,234.60 C688.22,233.70 693.83,233.40 700.00,232.70 C706.17,232.00 711.72,231.45 718.50,230.40 C725.28,229.35 733.32,227.70 740.70,226.40 C748.08,225.10 755.43,223.63 762.80,222.60 C770.17,221.57 779.00,220.85 784.90,220.20 C790.80,219.55 794.50,219.43 798.20,218.70 C801.90,217.97 803.78,216.80 807.10,215.80 C810.42,214.80 814.42,213.40 818.10,212.70 C821.78,212.00 823.67,211.90 829.20,211.60 C834.73,211.30 843.92,211.32 851.30,210.90 C858.68,210.48 866.12,209.28 873.50,209.10 C880.88,208.92 888.23,209.38 895.60,209.80 C902.97,210.22 912.17,211.05 917.70,211.60 C923.23,212.15 925.10,212.30 928.80,213.10 C932.50,213.90 936.40,215.37 939.90,216.40 C943.40,217.43 948.15,218.82 949.80,219.30" fill="none" stroke="#000" stroke-width="2.1" stroke-linejoin="round" stroke-linecap="round"/>
<line x1="335.4" y1="290.7" x2="919.3" y2="185.2" stroke="#000" stroke-width="1.7"/>
<defs><clipPath id="cob"><rect x="11" y="500" width="1431" height="32.55"/></clipPath><clipPath id="cos"><rect x="11" y="616.25" width="1431" height="21.25"/></clipPath></defs>
<path clip-path="url(#cob)" d="M11.44,532.55 L11.44,560.24 L14.50,556.61 L17.57,544.37 L20.64,556.15 L23.70,555.15 L26.77,552.72 L29.84,553.27 L32.90,564.05 L35.97,566.64 L39.03,570.85 L42.10,559.95 L45.17,555.79 L48.23,568.43 L51.30,577.23 L54.37,589.58 L57.43,572.86 L60.50,586.06 L63.57,590.59 L66.63,590.94 L69.70,591.32 L72.76,591.73 L75.83,590.52 L78.90,585.02 L81.96,592.56 L85.03,580.60 L88.10,586.43 L91.16,581.10 L94.23,580.50 L97.29,588.45 L100.36,590.00 L103.43,591.60 L106.49,583.49 L109.56,572.15 L112.63,585.19 L115.69,581.84 L118.76,583.63 L121.82,606.60 L124.89,616.11 L127.96,627.55 L131.02,624.79 L134.09,625.80 L137.16,613.62 L140.22,571.77 L143.29,597.12 L146.36,592.92 L149.42,580.72 L152.49,582.84 L155.55,592.04 L158.62,593.42 L161.69,606.94 L164.75,611.53 L167.82,594.43 L170.89,591.55 L173.95,598.09 L177.02,587.85 L180.08,586.42 L183.15,591.29 L186.22,585.87 L189.28,589.85 L192.35,574.65 L195.42,582.96 L198.48,583.58 L201.55,584.25 L204.62,575.12 L207.68,569.88 L210.75,570.30 L213.81,572.48 L216.88,571.17 L219.95,583.48 L223.01,590.47 L226.08,591.62 L229.15,590.50 L232.21,576.69 L235.28,587.91 L238.34,584.78 L241.41,581.07 L244.48,582.50 L247.54,602.94 L250.61,598.90 L253.68,608.17 L256.74,577.88 L259.81,588.09 L262.87,573.77 L265.94,567.41 L269.01,573.28 L272.07,570.43 L275.14,573.93 L278.21,572.35 L281.27,568.70 L284.34,571.00 L287.41,568.35 L290.47,567.88 L293.54,557.30 L296.60,537.85 L299.67,537.03 L302.74,536.45 L305.80,534.08 L308.87,534.77 L311.94,541.14 L315.00,536.55 L318.07,542.37 L321.13,543.12 L324.20,534.04 L327.27,532.98 L330.33,540.33 L333.40,552.51 L336.47,550.60 L339.53,541.26 L342.60,540.43 L345.66,520.57 L348.73,522.86 L351.80,518.56 L354.86,522.57 L357.93,532.81 L361.00,528.66 L364.06,533.42 L367.13,532.71 L370.20,534.46 L373.26,537.20 L376.33,525.14 L379.39,532.21 L382.46,527.90 L385.53,519.30 L388.59,514.01 L391.66,546.04 L394.73,544.27 L397.79,540.05 L400.86,538.66 L403.92,542.32 L406.99,550.28 L410.06,564.62 L413.12,574.33 L416.19,570.54 L419.26,564.71 L422.32,564.18 L425.39,566.90 L428.45,571.69 L431.52,590.33 L434.59,573.37 L437.65,566.57 L440.72,566.04 L443.79,545.68 L446.85,545.31 L449.92,556.97 L452.99,573.00 L456.05,571.51 L459.12,574.75 L462.18,573.63 L465.25,566.91 L468.32,579.61 L471.38,578.40 L474.45,579.58 L477.52,587.09 L480.58,593.51 L483.65,599.49 L486.71,571.42 L489.78,567.78 L492.85,561.24 L495.91,563.79 L498.98,562.71 L502.05,561.57 L505.11,555.36 L508.18,565.16 L511.25,574.75 L514.31,557.20 L517.38,553.32 L520.44,564.29 L523.51,563.19 L526.58,557.69 L529.64,564.24 L532.71,560.72 L535.78,548.13 L538.84,530.71 L541.91,526.03 L544.97,526.82 L548.04,521.91 L551.11,519.99 L554.17,536.88 L557.24,533.74 L560.31,531.67 L563.37,542.04 L566.44,546.67 L569.50,547.47 L572.57,546.47 L575.64,535.18 L578.70,544.56 L581.77,548.72 L584.84,554.53 L587.90,552.82 L590.97,544.69 L594.04,556.72 L597.10,558.39 L600.17,559.26 L603.23,574.77 L606.30,590.92 L609.37,595.39 L612.43,582.33 L615.50,576.70 L618.57,582.55 L621.63,576.01 L624.70,560.30 L627.76,566.06 L630.83,567.51 L633.90,551.61 L636.96,556.22 L640.03,548.55 L643.10,535.56 L646.16,567.51 L649.23,572.12 L652.29,571.62 L655.36,571.08 L658.43,579.04 L661.49,594.80 L664.56,586.40 L667.63,594.28 L670.69,571.50 L673.76,578.27 L676.83,586.24 L679.89,598.51 L682.96,589.95 L686.02,591.79 L689.09,585.13 L692.16,600.12 L695.22,598.02 L698.29,600.07 L701.36,594.40 L704.42,583.71 L707.49,581.14 L710.55,585.68 L713.62,586.14 L716.69,588.09 L719.75,581.77 L722.82,576.26 L725.89,579.77 L728.95,565.68 L732.02,557.60 L735.08,554.71 L738.15,556.16 L741.22,560.62 L744.28,560.04 L747.35,552.00 L750.42,554.56 L753.48,551.04 L756.55,563.13 L759.62,562.46 L762.68,567.66 L765.75,586.22 L768.81,590.66 L771.88,580.10 L774.95,603.57 L778.01,598.97 L781.08,599.46 L784.15,579.81 L787.21,566.90 L790.28,569.41 L793.34,547.73 L796.41,540.85 L799.48,535.28 L802.54,534.63 L805.61,531.06 L808.68,527.05 L811.74,550.12 L814.81,543.54 L817.88,553.39 L820.94,590.28 L824.01,598.11 L827.07,579.65 L830.14,579.28 L833.21,586.93 L836.27,593.68 L839.34,600.96 L842.41,605.63 L845.47,601.85 L848.54,595.27 L851.60,586.34 L854.67,593.24 L857.74,596.09 L860.80,584.67 L863.87,580.77 L866.94,578.14 L870.00,565.85 L873.07,568.11 L876.13,573.55 L879.20,585.11 L882.27,591.74 L885.33,585.40 L888.40,582.96 L891.47,580.44 L894.53,596.61 L897.60,611.21 L900.67,599.35 L903.73,606.45 L906.80,597.05 L909.86,599.98 L912.93,588.97 L916.00,583.37 L919.06,593.37 L922.13,597.65 L925.20,603.18 L928.26,616.05 L931.33,610.71 L934.39,613.74 L937.46,618.22 L940.53,614.48 L943.59,617.80 L946.66,627.75 L949.73,628.94 L949.73,532.55 Z" fill="#4caf50" fill-opacity="0.10"/>
<path clip-path="url(#cos)" d="M11.44,616.25 L11.44,560.24 L14.50,556.61 L17.57,544.37 L20.64,556.15 L23.70,555.15 L26.77,552.72 L29.84,553.27 L32.90,564.05 L35.97,566.64 L39.03,570.85 L42.10,559.95 L45.17,555.79 L48.23,568.43 L51.30,577.23 L54.37,589.58 L57.43,572.86 L60.50,586.06 L63.57,590.59 L66.63,590.94 L69.70,591.32 L72.76,591.73 L75.83,590.52 L78.90,585.02 L81.96,592.56 L85.03,580.60 L88.10,586.43 L91.16,581.10 L94.23,580.50 L97.29,588.45 L100.36,590.00 L103.43,591.60 L106.49,583.49 L109.56,572.15 L112.63,585.19 L115.69,581.84 L118.76,583.63 L121.82,606.60 L124.89,616.11 L127.96,627.55 L131.02,624.79 L134.09,625.80 L137.16,613.62 L140.22,571.77 L143.29,597.12 L146.36,592.92 L149.42,580.72 L152.49,582.84 L155.55,592.04 L158.62,593.42 L161.69,606.94 L164.75,611.53 L167.82,594.43 L170.89,591.55 L173.95,598.09 L177.02,587.85 L180.08,586.42 L183.15,591.29 L186.22,585.87 L189.28,589.85 L192.35,574.65 L195.42,582.96 L198.48,583.58 L201.55,584.25 L204.62,575.12 L207.68,569.88 L210.75,570.30 L213.81,572.48 L216.88,571.17 L219.95,583.48 L223.01,590.47 L226.08,591.62 L229.15,590.50 L232.21,576.69 L235.28,587.91 L238.34,584.78 L241.41,581.07 L244.48,582.50 L247.54,602.94 L250.61,598.90 L253.68,608.17 L256.74,577.88 L259.81,588.09 L262.87,573.77 L265.94,567.41 L269.01,573.28 L272.07,570.43 L275.14,573.93 L278.21,572.35 L281.27,568.70 L284.34,571.00 L287.41,568.35 L290.47,567.88 L293.54,557.30 L296.60,537.85 L299.67,537.03 L302.74,536.45 L305.80,534.08 L308.87,534.77 L311.94,541.14 L315.00,536.55 L318.07,542.37 L321.13,543.12 L324.20,534.04 L327.27,532.98 L330.33,540.33 L333.40,552.51 L336.47,550.60 L339.53,541.26 L342.60,540.43 L345.66,520.57 L348.73,522.86 L351.80,518.56 L354.86,522.57 L357.93,532.81 L361.00,528.66 L364.06,533.42 L367.13,532.71 L370.20,534.46 L373.26,537.20 L376.33,525.14 L379.39,532.21 L382.46,527.90 L385.53,519.30 L388.59,514.01 L391.66,546.04 L394.73,544.27 L397.79,540.05 L400.86,538.66 L403.92,542.32 L406.99,550.28 L410.06,564.62 L413.12,574.33 L416.19,570.54 L419.26,564.71 L422.32,564.18 L425.39,566.90 L428.45,571.69 L431.52,590.33 L434.59,573.37 L437.65,566.57 L440.72,566.04 L443.79,545.68 L446.85,545.31 L449.92,556.97 L452.99,573.00 L456.05,571.51 L459.12,574.75 L462.18,573.63 L465.25,566.91 L468.32,579.61 L471.38,578.40 L474.45,579.58 L477.52,587.09 L480.58,593.51 L483.65,599.49 L486.71,571.42 L489.78,567.78 L492.85,561.24 L495.91,563.79 L498.98,562.71 L502.05,561.57 L505.11,555.36 L508.18,565.16 L511.25,574.75 L514.31,557.20 L517.38,553.32 L520.44,564.29 L523.51,563.19 L526.58,557.69 L529.64,564.24 L532.71,560.72 L535.78,548.13 L538.84,530.71 L541.91,526.03 L544.97,526.82 L548.04,521.91 L551.11,519.99 L554.17,536.88 L557.24,533.74 L560.31,531.67 L563.37,542.04 L566.44,546.67 L569.50,547.47 L572.57,546.47 L575.64,535.18 L578.70,544.56 L581.77,548.72 L584.84,554.53 L587.90,552.82 L590.97,544.69 L594.04,556.72 L597.10,558.39 L600.17,559.26 L603.23,574.77 L606.30,590.92 L609.37,595.39 L612.43,582.33 L615.50,576.70 L618.57,582.55 L621.63,576.01 L624.70,560.30 L627.76,566.06 L630.83,567.51 L633.90,551.61 L636.96,556.22 L640.03,548.55 L643.10,535.56 L646.16,567.51 L649.23,572.12 L652.29,571.62 L655.36,571.08 L658.43,579.04 L661.49,594.80 L664.56,586.40 L667.63,594.28 L670.69,571.50 L673.76,578.27 L676.83,586.24 L679.89,598.51 L682.96,589.95 L686.02,591.79 L689.09,585.13 L692.16,600.12 L695.22,598.02 L698.29,600.07 L701.36,594.40 L704.42,583.71 L707.49,581.14 L710.55,585.68 L713.62,586.14 L716.69,588.09 L719.75,581.77 L722.82,576.26 L725.89,579.77 L728.95,565.68 L732.02,557.60 L735.08,554.71 L738.15,556.16 L741.22,560.62 L744.28,560.04 L747.35,552.00 L750.42,554.56 L753.48,551.04 L756.55,563.13 L759.62,562.46 L762.68,567.66 L765.75,586.22 L768.81,590.66 L771.88,580.10 L774.95,603.57 L778.01,598.97 L781.08,599.46 L784.15,579.81 L787.21,566.90 L790.28,569.41 L793.34,547.73 L796.41,540.85 L799.48,535.28 L802.54,534.63 L805.61,531.06 L808.68,527.05 L811.74,550.12 L814.81,543.54 L817.88,553.39 L820.94,590.28 L824.01,598.11 L827.07,579.65 L830.14,579.28 L833.21,586.93 L836.27,593.68 L839.34,600.96 L842.41,605.63 L845.47,601.85 L848.54,595.27 L851.60,586.34 L854.67,593.24 L857.74,596.09 L860.80,584.67 L863.87,580.77 L866.94,578.14 L870.00,565.85 L873.07,568.11 L876.13,573.55 L879.20,585.11 L882.27,591.74 L885.33,585.40 L888.40,582.96 L891.47,580.44 L894.53,596.61 L897.60,611.21 L900.67,599.35 L903.73,606.45 L906.80,597.05 L909.86,599.98 L912.93,588.97 L916.00,583.37 L919.06,593.37 L922.13,597.65 L925.20,603.18 L928.26,616.05 L931.33,610.71 L934.39,613.74 L937.46,618.22 L940.53,614.48 L943.59,617.80 L946.66,627.75 L949.73,628.94 L949.73,616.25 Z" fill="#f23645" fill-opacity="0.08"/>
<g clip-path="url(#cr)">
<polyline points="11.44,569.49 14.50,569.94 17.57,567.68 20.64,565.72 23.70,563.04 26.77,560.92 29.84,558.77 32.90,557.40 35.97,556.21 39.03,556.05 42.10,556.31 45.17,556.05 48.23,557.73 51.30,560.10 54.37,562.20 57.43,563.36 60.50,566.34 63.57,568.80 66.63,571.35 69.70,574.11 72.76,576.86 75.83,578.75 78.90,580.06 81.96,581.61 85.03,583.09 88.10,585.28 91.16,586.18 94.23,586.42 97.29,586.33 100.36,587.56 103.43,587.95 106.49,587.45 109.56,586.10 112.63,585.67 115.69,584.96 118.76,584.47 121.82,586.01 124.89,587.69 127.96,591.05 131.02,593.79 134.09,596.98 137.16,599.34 140.22,598.15 143.29,598.66 146.36,598.76 149.42,598.56 152.49,599.32 155.55,599.81 158.62,600.64 161.69,602.30 164.75,602.66 167.82,601.11 170.89,598.54 173.95,596.63 177.02,593.92 180.08,591.97 183.15,593.37 186.22,592.56 189.28,592.35 192.35,591.91 195.42,591.92 198.48,591.32 201.55,590.66 204.62,588.39 207.68,585.41 210.75,583.69 213.81,582.33 216.88,580.41 219.95,580.09 223.01,580.38 226.08,580.41 229.15,580.74 232.21,579.80 235.28,580.74 238.34,580.87 241.41,580.69 244.48,580.57 247.54,582.56 250.61,584.63 253.68,587.33 256.74,587.72 259.81,588.93 262.87,588.24 265.94,586.59 269.01,585.28 272.07,583.84 275.14,583.65 278.21,582.53 281.27,581.39 284.34,580.67 287.41,579.66 290.47,577.15 293.54,574.18 296.60,569.16 299.67,566.24 302.74,562.55 305.80,559.72 308.87,557.38 311.94,555.09 315.00,552.67 318.07,550.42 321.13,548.33 324.20,545.85 327.27,543.14 330.33,541.14 333.40,540.04 336.47,539.56 339.53,539.80 342.60,540.05 345.66,538.91 348.73,538.11 351.80,536.95 354.86,535.63 357.93,535.36 361.00,534.38 364.06,533.69 367.13,533.59 370.20,533.70 373.26,533.47 376.33,531.52 379.39,530.20 382.46,529.25 385.53,527.74 388.59,527.27 391.66,528.93 394.73,530.76 397.79,532.01 400.86,532.43 403.92,533.40 406.99,534.61 410.06,536.89 413.12,539.74 416.19,542.12 419.26,544.95 422.32,547.23 425.39,550.01 428.45,553.76 431.52,559.21 434.59,561.16 437.65,562.75 440.72,564.61 443.79,565.11 446.85,565.32 449.92,565.80 452.99,566.40 456.05,566.20 459.12,566.50 462.18,567.14 465.25,567.33 468.32,568.24 471.38,568.72 474.45,567.95 477.52,568.93 480.58,570.86 483.65,573.25 486.71,575.08 489.78,576.69 492.85,577.00 495.91,576.34 498.98,575.71 502.05,574.77 505.11,573.46 508.18,573.34 511.25,572.99 514.31,571.48 517.38,569.60 520.44,567.97 523.51,565.81 526.58,562.82 529.64,562.31 532.71,561.80 535.78,560.87 538.84,558.50 541.91,555.88 544.97,553.40 548.04,551.01 551.11,547.78 554.17,545.08 557.24,543.40 560.31,541.86 563.37,540.27 566.44,539.09 569.50,538.36 572.57,537.09 575.64,535.27 578.70,535.01 581.77,536.30 584.84,538.33 587.90,540.19 590.97,541.82 594.04,544.44 597.10,545.98 600.17,547.80 603.23,550.88 606.30,554.37 609.37,557.85 612.43,560.34 615.50,562.50 618.57,565.88 621.63,568.13 624.70,568.96 627.76,569.78 630.83,570.83 633.90,571.32 636.96,571.29 640.03,570.58 643.10,568.89 646.16,568.37 649.23,567.03 652.29,565.33 655.36,564.53 658.43,564.70 661.49,565.57 664.56,566.31 667.63,568.74 670.69,569.13 673.76,569.90 676.83,572.37 679.89,575.39 682.96,578.35 686.02,582.36 689.09,583.62 692.16,585.62 695.22,587.51 698.29,589.58 701.36,590.68 704.42,589.88 707.49,589.51 710.55,588.89 713.62,589.94 716.69,590.64 719.75,590.32 722.82,588.73 725.89,588.01 728.95,586.14 732.02,584.17 735.08,580.93 738.15,577.94 741.22,575.12 744.28,572.67 747.35,570.40 750.42,568.50 753.48,566.03 756.55,564.39 759.62,562.56 762.68,561.55 765.75,562.26 768.81,563.04 771.88,564.07 774.95,567.35 778.01,570.51 781.08,573.61 784.15,574.98 787.21,575.47 790.28,576.71 793.34,576.22 796.41,575.49 799.48,573.50 802.54,571.52 805.61,568.90 808.68,564.68 811.74,561.78 814.81,559.17 817.88,555.59 820.94,554.96 824.01,554.87 827.07,554.86 830.14,555.74 833.21,556.99 836.27,560.28 839.34,564.57 842.41,569.59 845.47,574.40 848.54,578.98 851.60,583.22 854.67,586.30 857.74,590.05 860.80,592.29 863.87,591.61 866.94,590.18 870.00,589.19 873.07,588.40 876.13,587.44 879.20,586.83 882.27,586.17 885.33,584.72 888.40,583.37 891.47,582.31 894.53,583.05 897.60,584.33 900.67,584.56 903.73,586.12 906.80,587.28 909.86,588.84 912.93,590.49 916.00,591.58 919.06,593.00 922.13,593.90 925.20,594.71 928.26,596.90 931.33,598.89 934.39,601.26 937.46,602.81 940.53,603.04 943.59,604.36 946.66,605.88 949.73,608.16" fill="none" stroke="#f5d25a" stroke-width="1.3"/>
<polyline points="11.44,560.24 14.50,556.61 17.57,544.37 20.64,556.15 23.70,555.15 26.77,552.72 29.84,553.27 32.90,564.05 35.97,566.64 39.03,570.85 42.10,559.95 45.17,555.79 48.23,568.43 51.30,577.23 54.37,589.58 57.43,572.86 60.50,586.06 63.57,590.59 66.63,590.94 69.70,591.32 72.76,591.73 75.83,590.52 78.90,585.02 81.96,592.56 85.03,580.60 88.10,586.43 91.16,581.10 94.23,580.50 97.29,588.45 100.36,590.00 103.43,591.60 106.49,583.49 109.56,572.15 112.63,585.19 115.69,581.84 118.76,583.63 121.82,606.60 124.89,616.11 127.96,627.55 131.02,624.79 134.09,625.80 137.16,613.62 140.22,571.77 143.29,597.12 146.36,592.92 149.42,580.72 152.49,582.84 155.55,592.04 158.62,593.42 161.69,606.94 164.75,611.53 167.82,594.43 170.89,591.55 173.95,598.09 177.02,587.85 180.08,586.42 183.15,591.29 186.22,585.87 189.28,589.85 192.35,574.65 195.42,582.96 198.48,583.58 201.55,584.25 204.62,575.12 207.68,569.88 210.75,570.30 213.81,572.48 216.88,571.17 219.95,583.48 223.01,590.47 226.08,591.62 229.15,590.50 232.21,576.69 235.28,587.91 238.34,584.78 241.41,581.07 244.48,582.50 247.54,602.94 250.61,598.90 253.68,608.17 256.74,577.88 259.81,588.09 262.87,573.77 265.94,567.41 269.01,573.28 272.07,570.43 275.14,573.93 278.21,572.35 281.27,568.70 284.34,571.00 287.41,568.35 290.47,567.88 293.54,557.30 296.60,537.85 299.67,537.03 302.74,536.45 305.80,534.08 308.87,534.77 311.94,541.14 315.00,536.55 318.07,542.37 321.13,543.12 324.20,534.04 327.27,532.98 330.33,540.33 333.40,552.51 336.47,550.60 339.53,541.26 342.60,540.43 345.66,520.57 348.73,522.86 351.80,518.56 354.86,522.57 357.93,532.81 361.00,528.66 364.06,533.42 367.13,532.71 370.20,534.46 373.26,537.20 376.33,525.14 379.39,532.21 382.46,527.90 385.53,519.30 388.59,514.01 391.66,546.04 394.73,544.27 397.79,540.05 400.86,538.66 403.92,542.32 406.99,550.28 410.06,564.62 413.12,574.33 416.19,570.54 419.26,564.71 422.32,564.18 425.39,566.90 428.45,571.69 431.52,590.33 434.59,573.37 437.65,566.57 440.72,566.04 443.79,545.68 446.85,545.31 449.92,556.97 452.99,573.00 456.05,571.51 459.12,574.75 462.18,573.63 465.25,566.91 468.32,579.61 471.38,578.40 474.45,579.58 477.52,587.09 480.58,593.51 483.65,599.49 486.71,571.42 489.78,567.78 492.85,561.24 495.91,563.79 498.98,562.71 502.05,561.57 505.11,555.36 508.18,565.16 511.25,574.75 514.31,557.20 517.38,553.32 520.44,564.29 523.51,563.19 526.58,557.69 529.64,564.24 532.71,560.72 535.78,548.13 538.84,530.71 541.91,526.03 544.97,526.82 548.04,521.91 551.11,519.99 554.17,536.88 557.24,533.74 560.31,531.67 563.37,542.04 566.44,546.67 569.50,547.47 572.57,546.47 575.64,535.18 578.70,544.56 581.77,548.72 584.84,554.53 587.90,552.82 590.97,544.69 594.04,556.72 597.10,558.39 600.17,559.26 603.23,574.77 606.30,590.92 609.37,595.39 612.43,582.33 615.50,576.70 618.57,582.55 621.63,576.01 624.70,560.30 627.76,566.06 630.83,567.51 633.90,551.61 636.96,556.22 640.03,548.55 643.10,535.56 646.16,567.51 649.23,572.12 652.29,571.62 655.36,571.08 658.43,579.04 661.49,594.80 664.56,586.40 667.63,594.28 670.69,571.50 673.76,578.27 676.83,586.24 679.89,598.51 682.96,589.95 686.02,591.79 689.09,585.13 692.16,600.12 695.22,598.02 698.29,600.07 701.36,594.40 704.42,583.71 707.49,581.14 710.55,585.68 713.62,586.14 716.69,588.09 719.75,581.77 722.82,576.26 725.89,579.77 728.95,565.68 732.02,557.60 735.08,554.71 738.15,556.16 741.22,560.62 744.28,560.04 747.35,552.00 750.42,554.56 753.48,551.04 756.55,563.13 759.62,562.46 762.68,567.66 765.75,586.22 768.81,590.66 771.88,580.10 774.95,603.57 778.01,598.97 781.08,599.46 784.15,579.81 787.21,566.90 790.28,569.41 793.34,547.73 796.41,540.85 799.48,535.28 802.54,534.63 805.61,531.06 808.68,527.05 811.74,550.12 814.81,543.54 817.88,553.39 820.94,590.28 824.01,598.11 827.07,579.65 830.14,579.28 833.21,586.93 836.27,593.68 839.34,600.96 842.41,605.63 845.47,601.85 848.54,595.27 851.60,586.34 854.67,593.24 857.74,596.09 860.80,584.67 863.87,580.77 866.94,578.14 870.00,565.85 873.07,568.11 876.13,573.55 879.20,585.11 882.27,591.74 885.33,585.40 888.40,582.96 891.47,580.44 894.53,596.61 897.60,611.21 900.67,599.35 903.73,606.45 906.80,597.05 909.86,599.98 912.93,588.97 916.00,583.37 919.06,593.37 922.13,597.65 925.20,603.18 928.26,616.05 931.33,610.71 934.39,613.74 937.46,618.22 940.53,614.48 943.59,617.80 946.66,627.75 949.73,628.94" fill="none" stroke="#7e57c2" stroke-width="1.25" stroke-linejoin="round"/>
</g>
<g font-family="'Liberation Sans', 'DejaVu Sans', sans-serif">
<text x="10.40" y="20.6" font-size="12.4" fill="#1e222d" stroke="#1e222d" stroke-width="0.3" text-anchor="start" font-weight="normal" textLength="413.70" lengthAdjust="spacingAndGlyphs">M_MTrades created with TradingView.com, Nov 21, 2025 08:45 UTC+5:30</text>
<text x="19.20" y="49.8" font-size="12.6" fill="#1e222d" stroke="#1e222d" stroke-width="0.3" text-anchor="start" font-weight="normal" textLength="188.70" lengthAdjust="spacingAndGlyphs">Bitcoin / TetherUS · 1D · Binance</text>
<text x="215.40" y="49.8" font-size="12.4" fill="#1e222d" stroke="#1e222d" stroke-width="0.3" text-anchor="start" font-weight="normal" textLength="8.40" lengthAdjust="spacingAndGlyphs">O</text>
<text x="224.00" y="49.8" font-size="12.4" fill="#f23645" stroke="#f23645" stroke-width="0.3" text-anchor="start" font-weight="normal" textLength="55.60" lengthAdjust="spacingAndGlyphs">86,637.22</text>
<text x="287.70" y="49.8" font-size="12.4" fill="#1e222d" stroke="#1e222d" stroke-width="0.3" text-anchor="start" font-weight="normal" textLength="8.00" lengthAdjust="spacingAndGlyphs">H</text>
<text x="295.60" y="49.8" font-size="12.4" fill="#f23645" stroke="#f23645" stroke-width="0.3" text-anchor="start" font-weight="normal" textLength="56.40" lengthAdjust="spacingAndGlyphs">87,498.94</text>
<text x="359.80" y="49.8" font-size="12.4" fill="#1e222d" stroke="#1e222d" stroke-width="0.3" text-anchor="start" font-weight="normal" textLength="6.10" lengthAdjust="spacingAndGlyphs">L</text>
<text x="366.10" y="49.8" font-size="12.4" fill="#f23645" stroke="#f23645" stroke-width="0.3" text-anchor="start" font-weight="normal" textLength="55.80" lengthAdjust="spacingAndGlyphs">85,360.00</text>
<text x="429.70" y="49.8" font-size="12.4" fill="#1e222d" stroke="#1e222d" stroke-width="0.3" text-anchor="start" font-weight="normal" textLength="7.70" lengthAdjust="spacingAndGlyphs">C</text>
<text x="437.10" y="49.8" font-size="12.4" fill="#f23645" stroke="#f23645" stroke-width="0.3" text-anchor="start" font-weight="normal" textLength="55.70" lengthAdjust="spacingAndGlyphs">85,930.03</text>
<text x="501.00" y="49.8" font-size="12.4" fill="#f23645" stroke="#f23645" stroke-width="0.3" text-anchor="start" font-weight="normal" textLength="96.80" lengthAdjust="spacingAndGlyphs">−707.20 (−0.82%)</text>
<text x="1046.30" y="116.3" font-size="12.0" fill="#131722" stroke="#131722" stroke-width="0.3" text-anchor="start" font-weight="normal" textLength="108.10" lengthAdjust="spacingAndGlyphs">0.00% (126,199.00)</text>
<text x="1046.30" y="224.2" font-size="12.0" fill="#131722" stroke="#131722" stroke-width="0.3" text-anchor="start" font-weight="normal" textLength="114.80" lengthAdjust="spacingAndGlyphs">38.20% (106,453.04)</text>
<text x="1046.30" y="257.2" font-size="12.0" fill="#131722" stroke="#131722" stroke-width="0.3" text-anchor="start" font-weight="normal" textLength="114.80" lengthAdjust="spacingAndGlyphs">50.00% (100,353.50)</text>
<text x="1046.30" y="290.2" font-size="12.0" fill="#131722" stroke="#131722" stroke-width="0.3" text-anchor="start" font-weight="normal" textLength="108.00" lengthAdjust="spacingAndGlyphs">61.80% (94,253.96)</text>
<text x="1046.30" y="337.4" font-size="12.0" fill="#131722" stroke="#131722" stroke-width="0.3" text-anchor="start" font-weight="normal" textLength="108.20" lengthAdjust="spacingAndGlyphs">78.60% (85,569.87)</text>
<text x="1046.30" y="398.2" font-size="12.0" fill="#131722" stroke="#131722" stroke-width="0.3" text-anchor="start" font-weight="normal" textLength="114.60" lengthAdjust="spacingAndGlyphs">100.00% (74,508.00)</text>
<text x="1382.40" y="105.5" font-size="12.0" fill="#43a047" stroke="#43a047" stroke-width="0.6" text-anchor="start" font-weight="normal" textLength="53.00" lengthAdjust="spacingAndGlyphs">New ATH</text>
<text x="1323.60" y="139.0" font-size="12.0" fill="#2962ff" stroke="#2962ff" stroke-width="0.6" text-anchor="start" font-weight="normal" textLength="111.50" lengthAdjust="spacingAndGlyphs">Psychological level</text>
<text x="1383.30" y="262.2" font-size="12.0" fill="#e0303f" stroke="#e0303f" stroke-width="0.6" text-anchor="start" font-weight="normal" textLength="52.00" lengthAdjust="spacingAndGlyphs">Daily S/R</text>
</g>
<g font-family="'Liberation Sans', 'DejaVu Sans', sans-serif">
<text x="1452.40" y="95.3" font-size="12.6" fill="#2f333e" stroke="#2f333e" stroke-width="0.3" text-anchor="start" font-weight="normal">130,000.00</text>
<text x="1452.40" y="204.4" font-size="12.6" fill="#2f333e" stroke="#2f333e" stroke-width="0.3" text-anchor="start" font-weight="normal">110,000.00</text>
<text x="1452.40" y="258.9" font-size="12.6" fill="#2f333e" stroke="#2f333e" stroke-width="0.3" text-anchor="start" font-weight="normal">100,000.00</text>
<text x="1452.40" y="422.6" font-size="12.6" fill="#2f333e" stroke="#2f333e" stroke-width="0.3" text-anchor="start" font-weight="normal">70,000.00</text>
<path d="M1443.7,104.5 H1519.4 Q1521.4,104.5 1521.4,106.5 V119.4 Q1521.4,121.4 1519.4,121.4 H1443.7 Z" fill="#4caf50"/>
<text x="1452.60" y="117.2" font-size="12.6" fill="#fff" stroke="#fff" stroke-width="0.3" text-anchor="start" font-weight="normal">126,199.63</text>
<path d="M1443.7,138.3 H1519.4 Q1521.4,138.3 1521.4,140.3 V153.4 Q1521.4,155.4 1519.4,155.4 H1443.7 Z" fill="#2962ff"/>
<text x="1452.60" y="151.2" font-size="12.6" fill="#fff" stroke="#fff" stroke-width="0.3" text-anchor="start" font-weight="normal">120,000.00</text>
<path d="M1443.7,211.2 H1519.4 Q1521.4,211.2 1521.4,213.2 V226.4 Q1521.4,228.4 1519.4,228.4 H1443.7 Z" fill="#000000"/>
<text x="1452.60" y="224.1" font-size="12.6" fill="#fff" stroke="#fff" stroke-width="0.3" text-anchor="start" font-weight="normal">106,588.03</text>
<path d="M1443.7,261.2 H1511.7 Q1513.7,261.2 1513.7,263.2 V276.2 Q1513.7,278.2 1511.7,278.2 H1443.7 Z" fill="#f23645"/>
<text x="1452.60" y="274.0" font-size="12.6" fill="#fff" stroke="#fff" stroke-width="0.3" text-anchor="start" font-weight="normal">97,460.00</text>
<path d="M1443.7,301.8 H1511.7 Q1513.7,301.8 1513.7,303.8 V316.6 Q1513.7,318.6 1511.7,318.6 H1443.7 Z" fill="#9c27b0"/>
<text x="1452.60" y="314.5" font-size="12.6" fill="#fff" stroke="#fff" stroke-width="0.3" text-anchor="start" font-weight="normal">90,000.00</text>
<path d="M1443.7,324.3 H1511.7 Q1513.7,324.3 1513.7,326.3 V371.7 Q1513.7,373.7 1511.7,373.7 H1443.7 Z" fill="#f23645"/>
<text x="1452.60" y="335.9" font-size="12.6" fill="#fff" stroke="#fff" stroke-width="0.3" text-anchor="start" font-weight="normal">85,930.03</text>
<text x="1452.60" y="351.3" font-size="12.6" fill="#fff" stroke="#fff" stroke-width="0.3" text-anchor="start" font-weight="normal" textLength="56.20" lengthAdjust="spacingAndGlyphs">20:44:10</text>
<text x="1452.60" y="368.8" font-size="12.6" fill="#fff" stroke="#fff" stroke-width="0.3" text-anchor="start" font-weight="normal">85,000.00</text>
<path d="M1443.7,374.0 H1511.7 Q1513.7,374.0 1513.7,376.0 V389.4 Q1513.7,391.4 1511.7,391.4 H1443.7 Z" fill="#ff9800"/>
<text x="1452.60" y="387.0" font-size="12.6" fill="#131722" stroke="#131722" stroke-width="0.3" text-anchor="start" font-weight="normal">80,867.99</text>
<path d="M1443.7,392.4 H1511.7 Q1513.7,392.4 1513.7,394.4 V407.4 Q1513.7,409.4 1511.7,409.4 H1443.7 Z" fill="#9c27b0"/>
<text x="1452.60" y="405.2" font-size="12.6" fill="#fff" stroke="#fff" stroke-width="0.3" text-anchor="start" font-weight="normal">73,719.53</text>
<rect x="1447.8" y="33.4" width="73.6" height="26.6" rx="6" fill="#fff" stroke="#e0e3eb" stroke-width="1"/>
<text x="1456.40" y="50.9" font-size="12.8" fill="#131722" stroke="#131722" stroke-width="0.3" text-anchor="start" font-weight="normal" textLength="30.00" lengthAdjust="spacingAndGlyphs">USDT</text>
<text x="1452.40" y="470.3" font-size="12.6" fill="#2f333e" stroke="#2f333e" stroke-width="0.3" text-anchor="start" font-weight="normal">50K</text>
<path d="M1443.7,482.8 H1490.5 Q1492.5,482.8 1492.5,484.8 V498.0 Q1492.5,500.0 1490.5,500.0 H1443.7 Z" fill="#f05350"/>
<text x="1452.60" y="495.7" font-size="12.6" fill="#fff" stroke="#fff" stroke-width="0.3" text-anchor="start" font-weight="normal">5.51K</text>
<text x="1452.40" y="516.5" font-size="12.6" fill="#2f333e" stroke="#2f333e" stroke-width="0.3" text-anchor="start" font-weight="normal">80.00</text>
<text x="1452.40" y="558.4" font-size="12.6" fill="#2f333e" stroke="#2f333e" stroke-width="0.3" text-anchor="start" font-weight="normal">60.00</text>
<text x="1452.40" y="600.2" font-size="12.6" fill="#2f333e" stroke="#2f333e" stroke-width="0.3" text-anchor="start" font-weight="normal">40.00</text>
<text x="1452.40" y="642.1" font-size="12.6" fill="#2f333e" stroke="#2f333e" stroke-width="0.3" text-anchor="start" font-weight="normal">20.00</text>
<path d="M1443.7,600.4 H1487 Q1489,600.4 1489,602.4 V616.0 Q1489,618.0 1487,618.0 H1443.7 Z" fill="#fdd835"/>
<text x="1452.60" y="613.5" font-size="12.6" fill="#131722" stroke="#131722" stroke-width="0.3" text-anchor="start" font-weight="normal">33.79</text>
<path d="M1443.7,621.0 H1487 Q1489,621.0 1489,623.0 V635.9 Q1489,637.9 1487,637.9 H1443.7 Z" fill="#7e57c2"/>
<text x="1452.60" y="633.8" font-size="12.6" fill="#fff" stroke="#fff" stroke-width="0.3" text-anchor="start" font-weight="normal">23.77</text>
</g>
<g font-family="'Liberation Sans', 'DejaVu Sans', sans-serif" font-size="12.6" fill="#131722" stroke="#131722" stroke-width="0.3" text-anchor="middle">
<text x="51.3" y="661">Feb</text>
<text x="137.2" y="661">Mar</text>
<text x="232.2" y="661">Apr</text>
<text x="324.2" y="661">May</text>
<text x="419.3" y="661">Jun</text>
<text x="511.2" y="661">Jul</text>
<text x="606.3" y="661">Aug</text>
<text x="701.4" y="661">Sep</text>
<text x="793.3" y="661">Oct</text>
<text x="888.4" y="661">Nov</text>
<text x="980.4" y="661">Dec</text>
<text x="1075.4" y="661" font-weight="bold">2026</text>
<text x="1170.5" y="661">Feb</text>
<text x="1256.4" y="661">Mar</text>
<text x="1351.4" y="661">Apr</text>
</g>
<svg x="1420" y="640" width="23.6" height="30"><text x="23.4" y="21" font-family="'Liberation Sans', 'DejaVu Sans', sans-serif" font-size="12.6" fill="#131722" text-anchor="middle">May</text></svg>
<g fill="#131722">
<path d="M13,694.8 H25.4 V710.3 H19.6 V700.4 H13 Z"/>
<circle cx="31.2" cy="697.7" r="3.1"/>
<path d="M36.5,694.8 H44.6 L38.4,710.3 H31.3 Z"/>
<text x="52.6" y="710.3" font-family="'Liberation Sans', 'DejaVu Sans', sans-serif" font-size="21.6" font-weight="bold" textLength="127.4" lengthAdjust="spacingAndGlyphs">TradingView</text>
</g>
</svg>
</body></html>
